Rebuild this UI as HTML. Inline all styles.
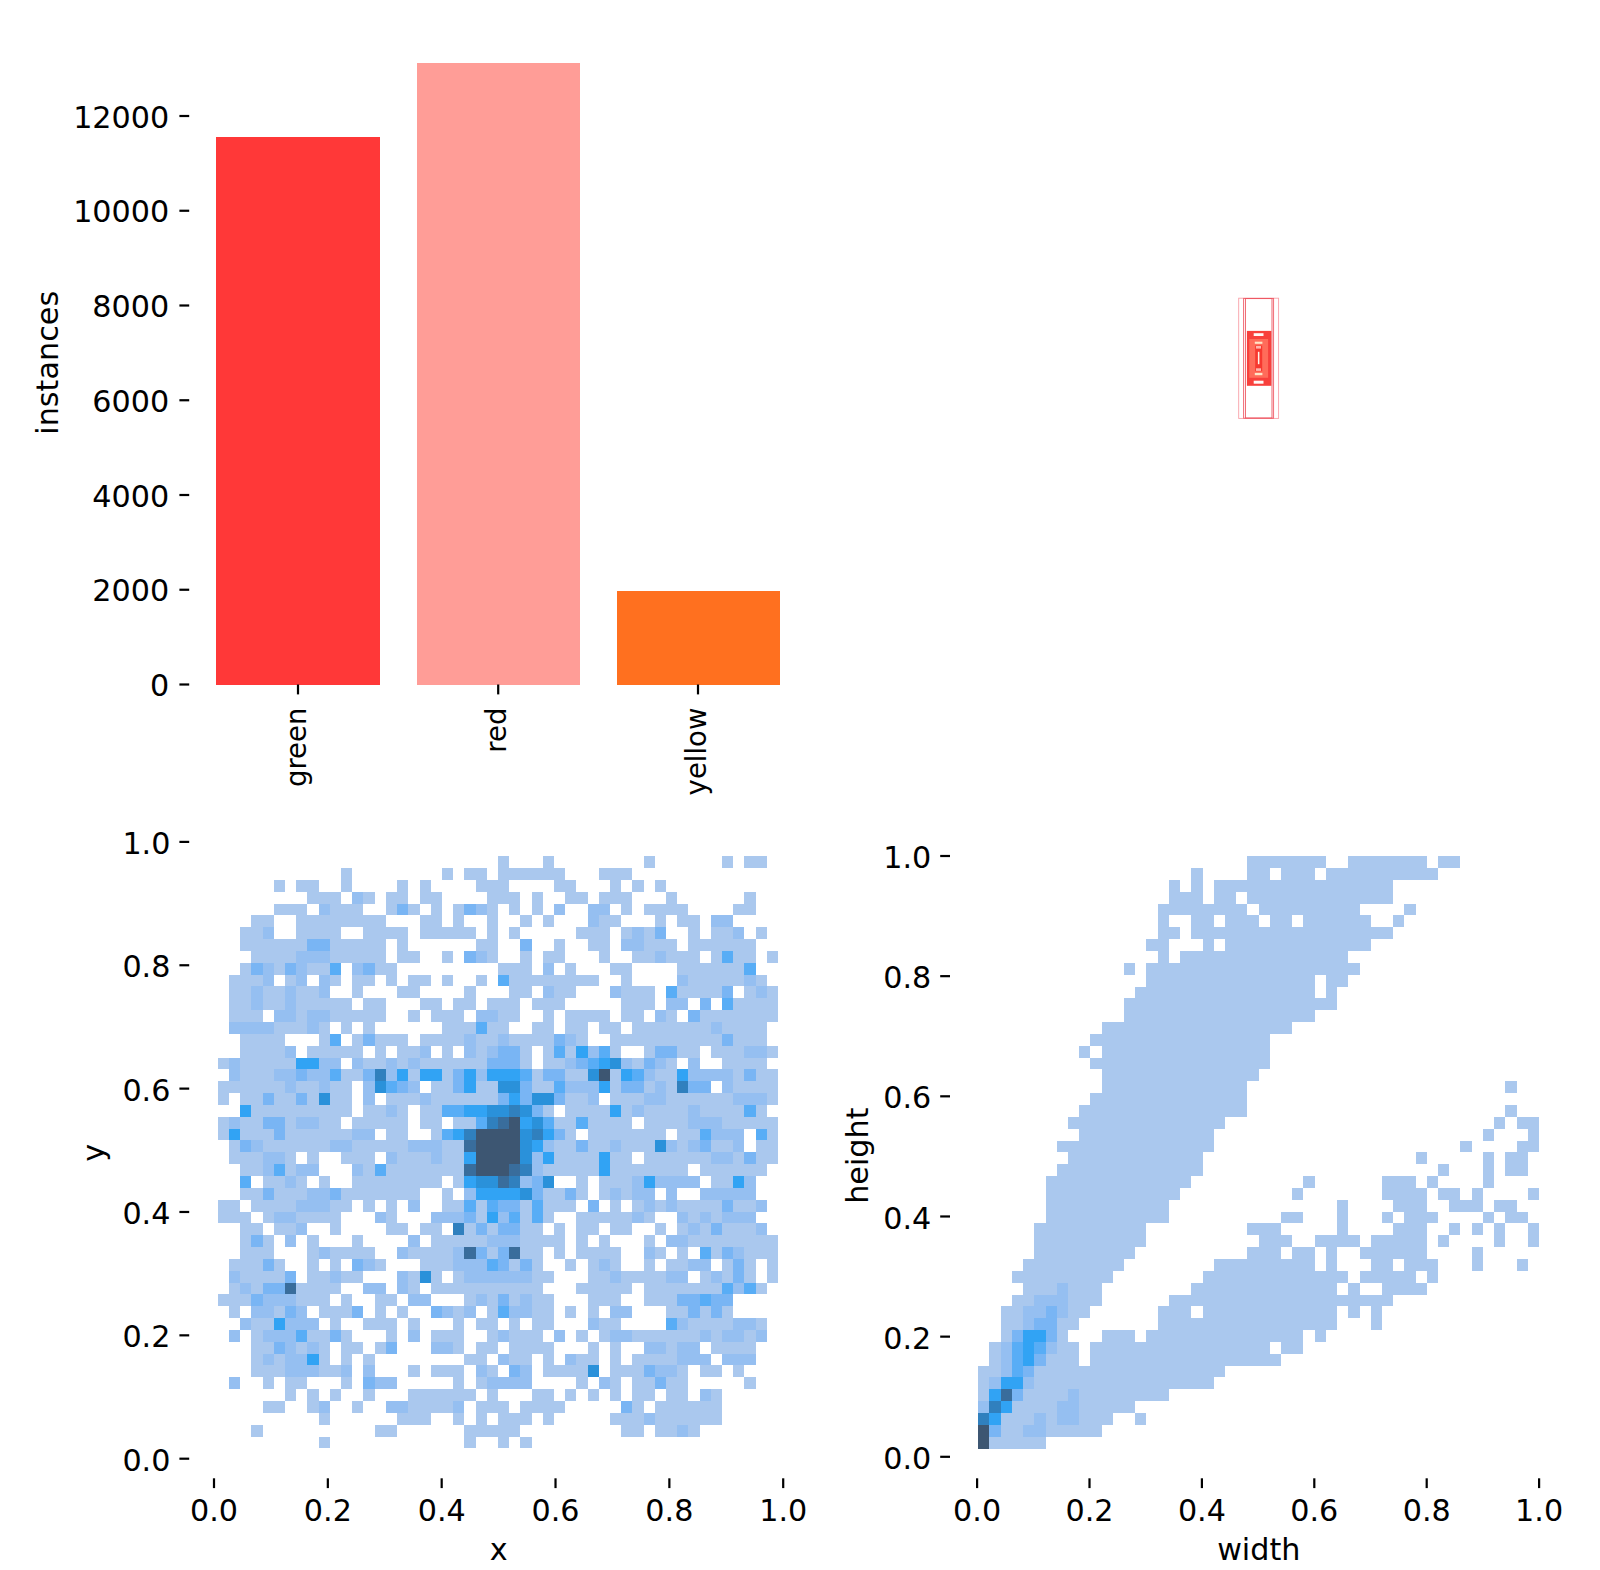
<!DOCTYPE html>
<html><head><meta charset="utf-8"><title>labels</title>
<style>html,body{margin:0;padding:0;background:#fff}svg{display:block}text{font-family:"DejaVu Sans","Liberation Sans",sans-serif;font-size:30.20px;fill:#000}</style></head><body>
<svg width="1600" height="1570" viewBox="0 0 1600 1570">
<rect width="1600" height="1570" fill="#fff"/>
<g shape-rendering="crispEdges">
<rect x="216.25" y="136.80" width="163.75" height="547.70" fill="#FF3838"/>
<rect x="417.00" y="63.00" width="163.00" height="621.50" fill="#FF9D97"/>
<rect x="617.00" y="591.25" width="163.00" height="93.25" fill="#FF701F"/>
</g>
<rect x="179.40" y="683.40" width="9.80" height="2.20" fill="#000"/>
<text transform="translate(169.2,696.20) scale(1,0.975)" text-anchor="end">0</text>
<rect x="179.40" y="588.65" width="9.80" height="2.20" fill="#000"/>
<text transform="translate(169.2,601.45) scale(1,0.975)" text-anchor="end">2000</text>
<rect x="179.40" y="493.90" width="9.80" height="2.20" fill="#000"/>
<text transform="translate(169.2,506.70) scale(1,0.975)" text-anchor="end">4000</text>
<rect x="179.40" y="399.15" width="9.80" height="2.20" fill="#000"/>
<text transform="translate(169.2,411.95) scale(1,0.975)" text-anchor="end">6000</text>
<rect x="179.40" y="304.40" width="9.80" height="2.20" fill="#000"/>
<text transform="translate(169.2,317.20) scale(1,0.975)" text-anchor="end">8000</text>
<rect x="179.40" y="209.65" width="9.80" height="2.20" fill="#000"/>
<text transform="translate(169.2,222.45) scale(1,0.975)" text-anchor="end">10000</text>
<rect x="179.40" y="114.90" width="9.80" height="2.20" fill="#000"/>
<text transform="translate(169.2,127.70) scale(1,0.975)" text-anchor="end">12000</text>
<rect x="296.90" y="684.50" width="2.20" height="9.90" fill="#000"/>
<text transform="translate(306.10,707.60) rotate(-90)" text-anchor="end" style="font-size:27.5px">green</text>
<rect x="497.10" y="684.50" width="2.20" height="9.90" fill="#000"/>
<text transform="translate(506.30,707.60) rotate(-90)" text-anchor="end" style="font-size:27.5px">red</text>
<rect x="696.90" y="684.50" width="2.20" height="9.90" fill="#000"/>
<text transform="translate(706.10,707.60) rotate(-90)" text-anchor="end" style="font-size:27.5px">yellow</text>
<text transform="translate(57.7,362.8) rotate(-90) scale(0.985,1)" text-anchor="middle" style="font-size:30.7px">instances</text>
<g>
<rect x="1238.70" y="298.20" width="39.90" height="120.20" fill="none" stroke="#f9a0a8" stroke-width="0.90" opacity="1.00"/>
<rect x="1243.60" y="298.40" width="30.00" height="119.80" fill="none" stroke="#f0606c" stroke-width="0.90" opacity="1.00"/>
<rect x="1245.40" y="298.60" width="26.60" height="119.40" fill="none" stroke="#ee5560" stroke-width="0.90" opacity="1.00"/>
<rect x="1246.9" y="330.9" width="24.5" height="54.9" fill="#f8403c"/>
<rect x="1249.3" y="339.0" width="18.8" height="38.8" fill="#ff6c5a"/>
<rect x="1255.2" y="345.5" width="7.0" height="25.8" fill="#f7382f"/>
<rect x="1253.70" y="333.20" width="9.80" height="2.80" fill="#fff8f6"/>
<rect x="1253.70" y="380.70" width="9.80" height="3.00" fill="#fff8f6"/>
<rect x="1254.80" y="341.70" width="7.60" height="2.10" fill="#ffe6c8"/>
<rect x="1254.80" y="372.90" width="7.60" height="2.30" fill="#ffe6c8"/>
<rect x="1256.00" y="346.00" width="5.00" height="2.60" fill="#ffb4ac"/>
<rect x="1256.00" y="368.30" width="5.00" height="2.60" fill="#ffb4ac"/>
<rect x="1257.90" y="351.80" width="1.50" height="12.40" fill="#fff4ea"/>
</g>
<g shape-rendering="crispEdges">
<rect x="497.92" y="856.15" width="11.21" height="11.85" fill="#aac8ee"/>
<rect x="542.74" y="856.15" width="11.20" height="11.85" fill="#aac8ee"/>
<rect x="643.56" y="856.15" width="11.21" height="11.85" fill="#aac8ee"/>
<rect x="721.99" y="856.15" width="11.20" height="11.85" fill="#aac8ee"/>
<rect x="744.39" y="856.15" width="22.41" height="11.85" fill="#aac8ee"/>
<rect x="341.08" y="868.00" width="11.21" height="11.84" fill="#aac8ee"/>
<rect x="441.91" y="868.00" width="11.20" height="11.84" fill="#aac8ee"/>
<rect x="464.32" y="868.00" width="22.40" height="11.84" fill="#aac8ee"/>
<rect x="497.92" y="868.00" width="67.22" height="11.84" fill="#aac8ee"/>
<rect x="598.75" y="868.00" width="33.61" height="11.84" fill="#aac8ee"/>
<rect x="273.87" y="879.84" width="11.20" height="11.84" fill="#aac8ee"/>
<rect x="296.27" y="879.84" width="22.41" height="11.84" fill="#aac8ee"/>
<rect x="341.08" y="879.84" width="11.21" height="11.84" fill="#aac8ee"/>
<rect x="397.10" y="879.84" width="11.20" height="11.84" fill="#aac8ee"/>
<rect x="419.50" y="879.84" width="11.21" height="11.84" fill="#aac8ee"/>
<rect x="475.52" y="879.84" width="33.61" height="11.84" fill="#aac8ee"/>
<rect x="553.94" y="879.84" width="22.41" height="11.84" fill="#aac8ee"/>
<rect x="609.95" y="879.84" width="11.21" height="11.84" fill="#aac8ee"/>
<rect x="632.36" y="879.84" width="11.20" height="11.84" fill="#aac8ee"/>
<rect x="654.77" y="879.84" width="11.20" height="11.84" fill="#aac8ee"/>
<rect x="307.47" y="891.68" width="33.61" height="11.85" fill="#aac8ee"/>
<rect x="352.29" y="891.68" width="11.20" height="11.85" fill="#95bff1"/>
<rect x="363.49" y="891.68" width="11.20" height="11.85" fill="#aac8ee"/>
<rect x="385.89" y="891.68" width="22.41" height="11.85" fill="#aac8ee"/>
<rect x="419.50" y="891.68" width="22.41" height="11.85" fill="#aac8ee"/>
<rect x="486.72" y="891.68" width="33.61" height="11.85" fill="#aac8ee"/>
<rect x="531.53" y="891.68" width="11.21" height="11.85" fill="#aac8ee"/>
<rect x="565.14" y="891.68" width="22.41" height="11.85" fill="#aac8ee"/>
<rect x="598.75" y="891.68" width="33.61" height="11.85" fill="#aac8ee"/>
<rect x="665.97" y="891.68" width="11.20" height="11.85" fill="#aac8ee"/>
<rect x="744.39" y="891.68" width="11.20" height="11.85" fill="#aac8ee"/>
<rect x="273.87" y="903.53" width="33.60" height="11.85" fill="#aac8ee"/>
<rect x="318.68" y="903.53" width="11.20" height="11.85" fill="#95bff1"/>
<rect x="329.88" y="903.53" width="33.61" height="11.85" fill="#aac8ee"/>
<rect x="385.89" y="903.53" width="11.21" height="11.85" fill="#aac8ee"/>
<rect x="397.10" y="903.53" width="11.20" height="11.85" fill="#79b5f4"/>
<rect x="408.30" y="903.53" width="11.20" height="11.85" fill="#aac8ee"/>
<rect x="430.71" y="903.53" width="11.20" height="11.85" fill="#aac8ee"/>
<rect x="453.11" y="903.53" width="11.21" height="11.85" fill="#aac8ee"/>
<rect x="464.32" y="903.53" width="11.20" height="11.85" fill="#79b5f4"/>
<rect x="475.52" y="903.53" width="11.20" height="11.85" fill="#95bff1"/>
<rect x="486.72" y="903.53" width="11.20" height="11.85" fill="#aac8ee"/>
<rect x="509.13" y="903.53" width="11.20" height="11.85" fill="#aac8ee"/>
<rect x="531.53" y="903.53" width="11.21" height="11.85" fill="#aac8ee"/>
<rect x="553.94" y="903.53" width="11.20" height="11.85" fill="#95bff1"/>
<rect x="587.55" y="903.53" width="22.40" height="11.85" fill="#95bff1"/>
<rect x="621.16" y="903.53" width="11.20" height="11.85" fill="#aac8ee"/>
<rect x="643.56" y="903.53" width="44.82" height="11.85" fill="#aac8ee"/>
<rect x="733.19" y="903.53" width="22.40" height="11.85" fill="#aac8ee"/>
<rect x="251.46" y="915.38" width="22.41" height="11.84" fill="#aac8ee"/>
<rect x="296.27" y="915.38" width="89.62" height="11.84" fill="#aac8ee"/>
<rect x="419.50" y="915.38" width="22.41" height="11.84" fill="#aac8ee"/>
<rect x="453.11" y="915.38" width="11.21" height="11.84" fill="#aac8ee"/>
<rect x="486.72" y="915.38" width="11.20" height="11.84" fill="#aac8ee"/>
<rect x="520.33" y="915.38" width="11.20" height="11.84" fill="#aac8ee"/>
<rect x="542.74" y="915.38" width="11.20" height="11.84" fill="#aac8ee"/>
<rect x="587.55" y="915.38" width="11.20" height="11.84" fill="#95bff1"/>
<rect x="598.75" y="915.38" width="22.41" height="11.84" fill="#aac8ee"/>
<rect x="654.77" y="915.38" width="11.20" height="11.84" fill="#aac8ee"/>
<rect x="677.17" y="915.38" width="22.41" height="11.84" fill="#aac8ee"/>
<rect x="710.78" y="915.38" width="22.41" height="11.84" fill="#95bff1"/>
<rect x="240.26" y="927.22" width="22.40" height="11.85" fill="#aac8ee"/>
<rect x="262.66" y="927.22" width="11.21" height="11.85" fill="#95bff1"/>
<rect x="296.27" y="927.22" width="44.81" height="11.85" fill="#aac8ee"/>
<rect x="363.49" y="927.22" width="44.81" height="11.85" fill="#aac8ee"/>
<rect x="419.50" y="927.22" width="56.02" height="11.85" fill="#aac8ee"/>
<rect x="486.72" y="927.22" width="11.20" height="11.85" fill="#aac8ee"/>
<rect x="509.13" y="927.22" width="11.20" height="11.85" fill="#aac8ee"/>
<rect x="576.35" y="927.22" width="33.60" height="11.85" fill="#aac8ee"/>
<rect x="621.16" y="927.22" width="11.20" height="11.85" fill="#aac8ee"/>
<rect x="632.36" y="927.22" width="11.20" height="11.85" fill="#95bff1"/>
<rect x="643.56" y="927.22" width="11.21" height="11.85" fill="#aac8ee"/>
<rect x="654.77" y="927.22" width="11.20" height="11.85" fill="#79b5f4"/>
<rect x="688.38" y="927.22" width="11.20" height="11.85" fill="#aac8ee"/>
<rect x="710.78" y="927.22" width="22.41" height="11.85" fill="#aac8ee"/>
<rect x="733.19" y="927.22" width="11.20" height="11.85" fill="#95bff1"/>
<rect x="755.59" y="927.22" width="11.21" height="11.85" fill="#aac8ee"/>
<rect x="240.26" y="939.07" width="67.21" height="11.84" fill="#aac8ee"/>
<rect x="307.47" y="939.07" width="22.41" height="11.84" fill="#79b5f4"/>
<rect x="329.88" y="939.07" width="56.01" height="11.84" fill="#aac8ee"/>
<rect x="397.10" y="939.07" width="11.20" height="11.84" fill="#aac8ee"/>
<rect x="475.52" y="939.07" width="22.40" height="11.84" fill="#aac8ee"/>
<rect x="520.33" y="939.07" width="11.20" height="11.84" fill="#79b5f4"/>
<rect x="553.94" y="939.07" width="11.20" height="11.84" fill="#aac8ee"/>
<rect x="587.55" y="939.07" width="22.40" height="11.84" fill="#aac8ee"/>
<rect x="621.16" y="939.07" width="22.40" height="11.84" fill="#95bff1"/>
<rect x="643.56" y="939.07" width="33.61" height="11.84" fill="#aac8ee"/>
<rect x="688.38" y="939.07" width="67.21" height="11.84" fill="#aac8ee"/>
<rect x="251.46" y="950.91" width="44.81" height="11.84" fill="#aac8ee"/>
<rect x="296.27" y="950.91" width="33.61" height="11.84" fill="#95bff1"/>
<rect x="329.88" y="950.91" width="56.01" height="11.84" fill="#aac8ee"/>
<rect x="397.10" y="950.91" width="22.40" height="11.84" fill="#aac8ee"/>
<rect x="441.91" y="950.91" width="11.20" height="11.84" fill="#aac8ee"/>
<rect x="464.32" y="950.91" width="11.20" height="11.84" fill="#79b5f4"/>
<rect x="475.52" y="950.91" width="11.20" height="11.84" fill="#95bff1"/>
<rect x="486.72" y="950.91" width="11.20" height="11.84" fill="#aac8ee"/>
<rect x="520.33" y="950.91" width="11.20" height="11.84" fill="#aac8ee"/>
<rect x="542.74" y="950.91" width="22.40" height="11.84" fill="#aac8ee"/>
<rect x="598.75" y="950.91" width="11.20" height="11.84" fill="#aac8ee"/>
<rect x="632.36" y="950.91" width="22.41" height="11.84" fill="#aac8ee"/>
<rect x="654.77" y="950.91" width="11.20" height="11.84" fill="#95bff1"/>
<rect x="665.97" y="950.91" width="33.61" height="11.84" fill="#aac8ee"/>
<rect x="710.78" y="950.91" width="11.21" height="11.84" fill="#aac8ee"/>
<rect x="721.99" y="950.91" width="11.20" height="11.84" fill="#58adf6"/>
<rect x="733.19" y="950.91" width="22.40" height="11.84" fill="#aac8ee"/>
<rect x="766.80" y="950.91" width="11.20" height="11.84" fill="#aac8ee"/>
<rect x="240.26" y="962.75" width="11.20" height="11.85" fill="#aac8ee"/>
<rect x="251.46" y="962.75" width="11.20" height="11.85" fill="#79b5f4"/>
<rect x="262.66" y="962.75" width="11.21" height="11.85" fill="#95bff1"/>
<rect x="273.87" y="962.75" width="11.20" height="11.85" fill="#aac8ee"/>
<rect x="285.07" y="962.75" width="11.20" height="11.85" fill="#79b5f4"/>
<rect x="296.27" y="962.75" width="11.20" height="11.85" fill="#95bff1"/>
<rect x="307.47" y="962.75" width="22.41" height="11.85" fill="#aac8ee"/>
<rect x="329.88" y="962.75" width="11.20" height="11.85" fill="#58adf6"/>
<rect x="352.29" y="962.75" width="11.20" height="11.85" fill="#95bff1"/>
<rect x="363.49" y="962.75" width="11.20" height="11.85" fill="#79b5f4"/>
<rect x="374.69" y="962.75" width="22.41" height="11.85" fill="#aac8ee"/>
<rect x="497.92" y="962.75" width="33.61" height="11.85" fill="#aac8ee"/>
<rect x="542.74" y="962.75" width="11.20" height="11.85" fill="#95bff1"/>
<rect x="565.14" y="962.75" width="11.21" height="11.85" fill="#aac8ee"/>
<rect x="609.95" y="962.75" width="22.41" height="11.85" fill="#aac8ee"/>
<rect x="677.17" y="962.75" width="67.22" height="11.85" fill="#aac8ee"/>
<rect x="744.39" y="962.75" width="11.20" height="11.85" fill="#58adf6"/>
<rect x="229.05" y="974.60" width="33.61" height="11.84" fill="#aac8ee"/>
<rect x="262.66" y="974.60" width="11.21" height="11.84" fill="#95bff1"/>
<rect x="285.07" y="974.60" width="11.20" height="11.84" fill="#aac8ee"/>
<rect x="296.27" y="974.60" width="11.20" height="11.84" fill="#95bff1"/>
<rect x="318.68" y="974.60" width="11.20" height="11.84" fill="#95bff1"/>
<rect x="329.88" y="974.60" width="11.20" height="11.84" fill="#aac8ee"/>
<rect x="352.29" y="974.60" width="22.40" height="11.84" fill="#aac8ee"/>
<rect x="385.89" y="974.60" width="11.21" height="11.84" fill="#aac8ee"/>
<rect x="408.30" y="974.60" width="22.41" height="11.84" fill="#aac8ee"/>
<rect x="441.91" y="974.60" width="11.20" height="11.84" fill="#aac8ee"/>
<rect x="475.52" y="974.60" width="11.20" height="11.84" fill="#aac8ee"/>
<rect x="497.92" y="974.60" width="11.21" height="11.84" fill="#58adf6"/>
<rect x="509.13" y="974.60" width="89.62" height="11.84" fill="#aac8ee"/>
<rect x="621.16" y="974.60" width="11.20" height="11.84" fill="#aac8ee"/>
<rect x="677.17" y="974.60" width="11.21" height="11.84" fill="#95bff1"/>
<rect x="688.38" y="974.60" width="56.01" height="11.84" fill="#aac8ee"/>
<rect x="744.39" y="974.60" width="11.20" height="11.84" fill="#95bff1"/>
<rect x="755.59" y="974.60" width="11.21" height="11.84" fill="#aac8ee"/>
<rect x="229.05" y="986.44" width="22.41" height="11.85" fill="#aac8ee"/>
<rect x="251.46" y="986.44" width="11.20" height="11.85" fill="#95bff1"/>
<rect x="262.66" y="986.44" width="22.41" height="11.85" fill="#aac8ee"/>
<rect x="285.07" y="986.44" width="11.20" height="11.85" fill="#95bff1"/>
<rect x="296.27" y="986.44" width="22.41" height="11.85" fill="#aac8ee"/>
<rect x="318.68" y="986.44" width="11.20" height="11.85" fill="#95bff1"/>
<rect x="352.29" y="986.44" width="11.20" height="11.85" fill="#aac8ee"/>
<rect x="397.10" y="986.44" width="22.40" height="11.85" fill="#aac8ee"/>
<rect x="464.32" y="986.44" width="11.20" height="11.85" fill="#aac8ee"/>
<rect x="509.13" y="986.44" width="22.40" height="11.85" fill="#aac8ee"/>
<rect x="542.74" y="986.44" width="11.20" height="11.85" fill="#95bff1"/>
<rect x="553.94" y="986.44" width="22.41" height="11.85" fill="#aac8ee"/>
<rect x="609.95" y="986.44" width="11.21" height="11.85" fill="#95bff1"/>
<rect x="621.16" y="986.44" width="33.61" height="11.85" fill="#aac8ee"/>
<rect x="665.97" y="986.44" width="11.20" height="11.85" fill="#58adf6"/>
<rect x="677.17" y="986.44" width="44.82" height="11.85" fill="#aac8ee"/>
<rect x="721.99" y="986.44" width="11.20" height="11.85" fill="#79b5f4"/>
<rect x="744.39" y="986.44" width="11.20" height="11.85" fill="#aac8ee"/>
<rect x="755.59" y="986.44" width="11.21" height="11.85" fill="#95bff1"/>
<rect x="766.80" y="986.44" width="11.20" height="11.85" fill="#aac8ee"/>
<rect x="229.05" y="998.29" width="22.41" height="11.84" fill="#aac8ee"/>
<rect x="251.46" y="998.29" width="11.20" height="11.84" fill="#95bff1"/>
<rect x="262.66" y="998.29" width="22.41" height="11.84" fill="#aac8ee"/>
<rect x="285.07" y="998.29" width="11.20" height="11.84" fill="#95bff1"/>
<rect x="296.27" y="998.29" width="56.02" height="11.84" fill="#aac8ee"/>
<rect x="363.49" y="998.29" width="22.40" height="11.84" fill="#aac8ee"/>
<rect x="419.50" y="998.29" width="22.41" height="11.84" fill="#aac8ee"/>
<rect x="453.11" y="998.29" width="22.41" height="11.84" fill="#aac8ee"/>
<rect x="486.72" y="998.29" width="33.61" height="11.84" fill="#aac8ee"/>
<rect x="531.53" y="998.29" width="33.61" height="11.84" fill="#aac8ee"/>
<rect x="621.16" y="998.29" width="33.61" height="11.84" fill="#aac8ee"/>
<rect x="665.97" y="998.29" width="22.41" height="11.84" fill="#95bff1"/>
<rect x="699.58" y="998.29" width="11.20" height="11.84" fill="#79b5f4"/>
<rect x="721.99" y="998.29" width="11.20" height="11.84" fill="#58adf6"/>
<rect x="733.19" y="998.29" width="44.81" height="11.84" fill="#aac8ee"/>
<rect x="229.05" y="1010.13" width="33.61" height="11.85" fill="#aac8ee"/>
<rect x="273.87" y="1010.13" width="22.40" height="11.85" fill="#95bff1"/>
<rect x="296.27" y="1010.13" width="11.20" height="11.85" fill="#aac8ee"/>
<rect x="307.47" y="1010.13" width="22.41" height="11.85" fill="#95bff1"/>
<rect x="329.88" y="1010.13" width="56.01" height="11.85" fill="#aac8ee"/>
<rect x="408.30" y="1010.13" width="11.20" height="11.85" fill="#aac8ee"/>
<rect x="430.71" y="1010.13" width="33.61" height="11.85" fill="#aac8ee"/>
<rect x="475.52" y="1010.13" width="22.40" height="11.85" fill="#95bff1"/>
<rect x="497.92" y="1010.13" width="22.41" height="11.85" fill="#aac8ee"/>
<rect x="542.74" y="1010.13" width="11.20" height="11.85" fill="#aac8ee"/>
<rect x="565.14" y="1010.13" width="44.81" height="11.85" fill="#aac8ee"/>
<rect x="621.16" y="1010.13" width="22.40" height="11.85" fill="#aac8ee"/>
<rect x="654.77" y="1010.13" width="11.20" height="11.85" fill="#95bff1"/>
<rect x="665.97" y="1010.13" width="11.20" height="11.85" fill="#aac8ee"/>
<rect x="688.38" y="1010.13" width="11.20" height="11.85" fill="#79b5f4"/>
<rect x="699.58" y="1010.13" width="78.42" height="11.85" fill="#aac8ee"/>
<rect x="229.05" y="1021.98" width="44.82" height="11.85" fill="#95bff1"/>
<rect x="273.87" y="1021.98" width="33.60" height="11.85" fill="#aac8ee"/>
<rect x="307.47" y="1021.98" width="11.21" height="11.85" fill="#95bff1"/>
<rect x="318.68" y="1021.98" width="11.20" height="11.85" fill="#aac8ee"/>
<rect x="341.08" y="1021.98" width="11.21" height="11.85" fill="#aac8ee"/>
<rect x="363.49" y="1021.98" width="11.20" height="11.85" fill="#aac8ee"/>
<rect x="441.91" y="1021.98" width="33.61" height="11.85" fill="#aac8ee"/>
<rect x="475.52" y="1021.98" width="11.20" height="11.85" fill="#58adf6"/>
<rect x="486.72" y="1021.98" width="22.41" height="11.85" fill="#aac8ee"/>
<rect x="531.53" y="1021.98" width="22.41" height="11.85" fill="#aac8ee"/>
<rect x="565.14" y="1021.98" width="22.41" height="11.85" fill="#aac8ee"/>
<rect x="598.75" y="1021.98" width="22.41" height="11.85" fill="#aac8ee"/>
<rect x="632.36" y="1021.98" width="78.42" height="11.85" fill="#aac8ee"/>
<rect x="710.78" y="1021.98" width="11.21" height="11.85" fill="#95bff1"/>
<rect x="721.99" y="1021.98" width="44.81" height="11.85" fill="#aac8ee"/>
<rect x="240.26" y="1033.83" width="44.81" height="11.84" fill="#aac8ee"/>
<rect x="318.68" y="1033.83" width="11.20" height="11.84" fill="#aac8ee"/>
<rect x="329.88" y="1033.83" width="11.20" height="11.84" fill="#58adf6"/>
<rect x="352.29" y="1033.83" width="11.20" height="11.84" fill="#aac8ee"/>
<rect x="363.49" y="1033.83" width="11.20" height="11.84" fill="#79b5f4"/>
<rect x="374.69" y="1033.83" width="33.61" height="11.84" fill="#aac8ee"/>
<rect x="419.50" y="1033.83" width="44.82" height="11.84" fill="#aac8ee"/>
<rect x="464.32" y="1033.83" width="11.20" height="11.84" fill="#95bff1"/>
<rect x="475.52" y="1033.83" width="22.40" height="11.84" fill="#aac8ee"/>
<rect x="497.92" y="1033.83" width="11.21" height="11.84" fill="#95bff1"/>
<rect x="509.13" y="1033.83" width="44.81" height="11.84" fill="#aac8ee"/>
<rect x="553.94" y="1033.83" width="11.20" height="11.84" fill="#79b5f4"/>
<rect x="565.14" y="1033.83" width="11.21" height="11.84" fill="#95bff1"/>
<rect x="576.35" y="1033.83" width="11.20" height="11.84" fill="#aac8ee"/>
<rect x="609.95" y="1033.83" width="112.04" height="11.84" fill="#aac8ee"/>
<rect x="721.99" y="1033.83" width="11.20" height="11.84" fill="#79b5f4"/>
<rect x="733.19" y="1033.83" width="33.61" height="11.84" fill="#aac8ee"/>
<rect x="240.26" y="1045.67" width="44.81" height="11.85" fill="#aac8ee"/>
<rect x="285.07" y="1045.67" width="11.20" height="11.85" fill="#95bff1"/>
<rect x="307.47" y="1045.67" width="56.02" height="11.85" fill="#aac8ee"/>
<rect x="374.69" y="1045.67" width="11.20" height="11.85" fill="#aac8ee"/>
<rect x="397.10" y="1045.67" width="22.40" height="11.85" fill="#aac8ee"/>
<rect x="419.50" y="1045.67" width="11.21" height="11.85" fill="#95bff1"/>
<rect x="441.91" y="1045.67" width="11.20" height="11.85" fill="#aac8ee"/>
<rect x="464.32" y="1045.67" width="11.20" height="11.85" fill="#95bff1"/>
<rect x="475.52" y="1045.67" width="11.20" height="11.85" fill="#aac8ee"/>
<rect x="486.72" y="1045.67" width="11.20" height="11.85" fill="#95bff1"/>
<rect x="497.92" y="1045.67" width="22.41" height="11.85" fill="#79b5f4"/>
<rect x="520.33" y="1045.67" width="11.20" height="11.85" fill="#aac8ee"/>
<rect x="542.74" y="1045.67" width="11.20" height="11.85" fill="#aac8ee"/>
<rect x="553.94" y="1045.67" width="11.20" height="11.85" fill="#58adf6"/>
<rect x="565.14" y="1045.67" width="11.21" height="11.85" fill="#aac8ee"/>
<rect x="576.35" y="1045.67" width="11.20" height="11.85" fill="#31a3f4"/>
<rect x="587.55" y="1045.67" width="11.20" height="11.85" fill="#95bff1"/>
<rect x="598.75" y="1045.67" width="11.20" height="11.85" fill="#58adf6"/>
<rect x="609.95" y="1045.67" width="11.21" height="11.85" fill="#aac8ee"/>
<rect x="643.56" y="1045.67" width="11.21" height="11.85" fill="#aac8ee"/>
<rect x="654.77" y="1045.67" width="22.40" height="11.85" fill="#79b5f4"/>
<rect x="677.17" y="1045.67" width="22.41" height="11.85" fill="#aac8ee"/>
<rect x="710.78" y="1045.67" width="33.61" height="11.85" fill="#aac8ee"/>
<rect x="744.39" y="1045.67" width="22.41" height="11.85" fill="#95bff1"/>
<rect x="766.80" y="1045.67" width="11.20" height="11.85" fill="#aac8ee"/>
<rect x="217.85" y="1057.52" width="11.20" height="11.84" fill="#aac8ee"/>
<rect x="229.05" y="1057.52" width="11.21" height="11.84" fill="#95bff1"/>
<rect x="240.26" y="1057.52" width="56.01" height="11.84" fill="#aac8ee"/>
<rect x="296.27" y="1057.52" width="22.41" height="11.84" fill="#31a3f4"/>
<rect x="318.68" y="1057.52" width="22.40" height="11.84" fill="#95bff1"/>
<rect x="352.29" y="1057.52" width="11.20" height="11.84" fill="#95bff1"/>
<rect x="363.49" y="1057.52" width="22.40" height="11.84" fill="#aac8ee"/>
<rect x="385.89" y="1057.52" width="11.21" height="11.84" fill="#95bff1"/>
<rect x="397.10" y="1057.52" width="11.20" height="11.84" fill="#aac8ee"/>
<rect x="408.30" y="1057.52" width="11.20" height="11.84" fill="#95bff1"/>
<rect x="419.50" y="1057.52" width="67.22" height="11.84" fill="#aac8ee"/>
<rect x="486.72" y="1057.52" width="33.61" height="11.84" fill="#79b5f4"/>
<rect x="520.33" y="1057.52" width="11.20" height="11.84" fill="#aac8ee"/>
<rect x="542.74" y="1057.52" width="22.40" height="11.84" fill="#aac8ee"/>
<rect x="565.14" y="1057.52" width="11.21" height="11.84" fill="#95bff1"/>
<rect x="576.35" y="1057.52" width="11.20" height="11.84" fill="#79b5f4"/>
<rect x="587.55" y="1057.52" width="11.20" height="11.84" fill="#58adf6"/>
<rect x="598.75" y="1057.52" width="11.20" height="11.84" fill="#31a3f4"/>
<rect x="609.95" y="1057.52" width="11.21" height="11.84" fill="#2a91da"/>
<rect x="621.16" y="1057.52" width="11.20" height="11.84" fill="#95bff1"/>
<rect x="632.36" y="1057.52" width="11.20" height="11.84" fill="#aac8ee"/>
<rect x="643.56" y="1057.52" width="11.21" height="11.84" fill="#79b5f4"/>
<rect x="654.77" y="1057.52" width="11.20" height="11.84" fill="#95bff1"/>
<rect x="665.97" y="1057.52" width="11.20" height="11.84" fill="#aac8ee"/>
<rect x="688.38" y="1057.52" width="11.20" height="11.84" fill="#95bff1"/>
<rect x="721.99" y="1057.52" width="44.81" height="11.84" fill="#aac8ee"/>
<rect x="229.05" y="1069.36" width="11.21" height="11.84" fill="#95bff1"/>
<rect x="240.26" y="1069.36" width="33.61" height="11.84" fill="#aac8ee"/>
<rect x="273.87" y="1069.36" width="22.40" height="11.84" fill="#95bff1"/>
<rect x="296.27" y="1069.36" width="11.20" height="11.84" fill="#79b5f4"/>
<rect x="307.47" y="1069.36" width="22.41" height="11.84" fill="#95bff1"/>
<rect x="329.88" y="1069.36" width="11.20" height="11.84" fill="#58adf6"/>
<rect x="341.08" y="1069.36" width="22.41" height="11.84" fill="#aac8ee"/>
<rect x="363.49" y="1069.36" width="11.20" height="11.84" fill="#79b5f4"/>
<rect x="374.69" y="1069.36" width="11.20" height="11.84" fill="#3080be"/>
<rect x="385.89" y="1069.36" width="11.21" height="11.84" fill="#95bff1"/>
<rect x="397.10" y="1069.36" width="11.20" height="11.84" fill="#31a3f4"/>
<rect x="408.30" y="1069.36" width="11.20" height="11.84" fill="#aac8ee"/>
<rect x="419.50" y="1069.36" width="22.41" height="11.84" fill="#31a3f4"/>
<rect x="441.91" y="1069.36" width="11.20" height="11.84" fill="#aac8ee"/>
<rect x="453.11" y="1069.36" width="11.21" height="11.84" fill="#79b5f4"/>
<rect x="464.32" y="1069.36" width="11.20" height="11.84" fill="#31a3f4"/>
<rect x="475.52" y="1069.36" width="11.20" height="11.84" fill="#95bff1"/>
<rect x="486.72" y="1069.36" width="33.61" height="11.84" fill="#31a3f4"/>
<rect x="520.33" y="1069.36" width="11.20" height="11.84" fill="#58adf6"/>
<rect x="531.53" y="1069.36" width="11.21" height="11.84" fill="#aac8ee"/>
<rect x="542.74" y="1069.36" width="22.40" height="11.84" fill="#79b5f4"/>
<rect x="565.14" y="1069.36" width="22.41" height="11.84" fill="#aac8ee"/>
<rect x="587.55" y="1069.36" width="11.20" height="11.84" fill="#2a91da"/>
<rect x="598.75" y="1069.36" width="11.20" height="11.84" fill="#3d5672"/>
<rect x="609.95" y="1069.36" width="11.21" height="11.84" fill="#aac8ee"/>
<rect x="621.16" y="1069.36" width="11.20" height="11.84" fill="#31a3f4"/>
<rect x="632.36" y="1069.36" width="11.20" height="11.84" fill="#58adf6"/>
<rect x="643.56" y="1069.36" width="11.21" height="11.84" fill="#95bff1"/>
<rect x="654.77" y="1069.36" width="22.40" height="11.84" fill="#aac8ee"/>
<rect x="677.17" y="1069.36" width="11.21" height="11.84" fill="#31a3f4"/>
<rect x="688.38" y="1069.36" width="44.81" height="11.84" fill="#95bff1"/>
<rect x="733.19" y="1069.36" width="11.20" height="11.84" fill="#aac8ee"/>
<rect x="744.39" y="1069.36" width="11.20" height="11.84" fill="#79b5f4"/>
<rect x="755.59" y="1069.36" width="22.41" height="11.84" fill="#aac8ee"/>
<rect x="217.85" y="1081.20" width="67.22" height="11.85" fill="#aac8ee"/>
<rect x="285.07" y="1081.20" width="11.20" height="11.85" fill="#95bff1"/>
<rect x="296.27" y="1081.20" width="22.41" height="11.85" fill="#aac8ee"/>
<rect x="318.68" y="1081.20" width="11.20" height="11.85" fill="#95bff1"/>
<rect x="329.88" y="1081.20" width="22.41" height="11.85" fill="#aac8ee"/>
<rect x="363.49" y="1081.20" width="11.20" height="11.85" fill="#95bff1"/>
<rect x="374.69" y="1081.20" width="11.20" height="11.85" fill="#2a91da"/>
<rect x="385.89" y="1081.20" width="11.21" height="11.85" fill="#58adf6"/>
<rect x="397.10" y="1081.20" width="11.20" height="11.85" fill="#79b5f4"/>
<rect x="408.30" y="1081.20" width="11.20" height="11.85" fill="#95bff1"/>
<rect x="430.71" y="1081.20" width="22.40" height="11.85" fill="#aac8ee"/>
<rect x="453.11" y="1081.20" width="11.21" height="11.85" fill="#79b5f4"/>
<rect x="464.32" y="1081.20" width="11.20" height="11.85" fill="#31a3f4"/>
<rect x="475.52" y="1081.20" width="22.40" height="11.85" fill="#aac8ee"/>
<rect x="497.92" y="1081.20" width="22.41" height="11.85" fill="#2a91da"/>
<rect x="520.33" y="1081.20" width="11.20" height="11.85" fill="#79b5f4"/>
<rect x="531.53" y="1081.20" width="22.41" height="11.85" fill="#aac8ee"/>
<rect x="553.94" y="1081.20" width="11.20" height="11.85" fill="#58adf6"/>
<rect x="565.14" y="1081.20" width="33.61" height="11.85" fill="#95bff1"/>
<rect x="598.75" y="1081.20" width="11.20" height="11.85" fill="#31a3f4"/>
<rect x="609.95" y="1081.20" width="11.21" height="11.85" fill="#aac8ee"/>
<rect x="621.16" y="1081.20" width="22.40" height="11.85" fill="#79b5f4"/>
<rect x="643.56" y="1081.20" width="11.21" height="11.85" fill="#aac8ee"/>
<rect x="654.77" y="1081.20" width="11.20" height="11.85" fill="#95bff1"/>
<rect x="665.97" y="1081.20" width="11.20" height="11.85" fill="#aac8ee"/>
<rect x="677.17" y="1081.20" width="11.21" height="11.85" fill="#3080be"/>
<rect x="688.38" y="1081.20" width="22.40" height="11.85" fill="#79b5f4"/>
<rect x="721.99" y="1081.20" width="11.20" height="11.85" fill="#95bff1"/>
<rect x="733.19" y="1081.20" width="44.81" height="11.85" fill="#aac8ee"/>
<rect x="217.85" y="1093.05" width="11.20" height="11.84" fill="#aac8ee"/>
<rect x="240.26" y="1093.05" width="22.40" height="11.84" fill="#aac8ee"/>
<rect x="262.66" y="1093.05" width="11.21" height="11.84" fill="#79b5f4"/>
<rect x="273.87" y="1093.05" width="22.40" height="11.84" fill="#aac8ee"/>
<rect x="296.27" y="1093.05" width="11.20" height="11.84" fill="#79b5f4"/>
<rect x="307.47" y="1093.05" width="11.21" height="11.84" fill="#aac8ee"/>
<rect x="318.68" y="1093.05" width="11.20" height="11.84" fill="#2a91da"/>
<rect x="329.88" y="1093.05" width="22.41" height="11.84" fill="#aac8ee"/>
<rect x="363.49" y="1093.05" width="11.20" height="11.84" fill="#95bff1"/>
<rect x="385.89" y="1093.05" width="33.61" height="11.84" fill="#aac8ee"/>
<rect x="419.50" y="1093.05" width="11.21" height="11.84" fill="#95bff1"/>
<rect x="430.71" y="1093.05" width="67.21" height="11.84" fill="#aac8ee"/>
<rect x="497.92" y="1093.05" width="11.21" height="11.84" fill="#79b5f4"/>
<rect x="509.13" y="1093.05" width="11.20" height="11.84" fill="#31a3f4"/>
<rect x="520.33" y="1093.05" width="11.20" height="11.84" fill="#79b5f4"/>
<rect x="531.53" y="1093.05" width="22.41" height="11.84" fill="#2a91da"/>
<rect x="553.94" y="1093.05" width="11.20" height="11.84" fill="#79b5f4"/>
<rect x="565.14" y="1093.05" width="22.41" height="11.84" fill="#aac8ee"/>
<rect x="587.55" y="1093.05" width="11.20" height="11.84" fill="#95bff1"/>
<rect x="609.95" y="1093.05" width="33.61" height="11.84" fill="#aac8ee"/>
<rect x="643.56" y="1093.05" width="22.41" height="11.84" fill="#95bff1"/>
<rect x="665.97" y="1093.05" width="67.22" height="11.84" fill="#aac8ee"/>
<rect x="733.19" y="1093.05" width="33.61" height="11.84" fill="#95bff1"/>
<rect x="766.80" y="1093.05" width="11.20" height="11.84" fill="#aac8ee"/>
<rect x="240.26" y="1104.89" width="11.20" height="11.85" fill="#31a3f4"/>
<rect x="251.46" y="1104.89" width="100.83" height="11.85" fill="#aac8ee"/>
<rect x="363.49" y="1104.89" width="22.40" height="11.85" fill="#aac8ee"/>
<rect x="385.89" y="1104.89" width="11.21" height="11.85" fill="#95bff1"/>
<rect x="397.10" y="1104.89" width="11.20" height="11.85" fill="#aac8ee"/>
<rect x="419.50" y="1104.89" width="22.41" height="11.85" fill="#aac8ee"/>
<rect x="441.91" y="1104.89" width="22.41" height="11.85" fill="#58adf6"/>
<rect x="464.32" y="1104.89" width="22.40" height="11.85" fill="#31a3f4"/>
<rect x="486.72" y="1104.89" width="22.41" height="11.85" fill="#2a91da"/>
<rect x="509.13" y="1104.89" width="11.20" height="11.85" fill="#3080be"/>
<rect x="520.33" y="1104.89" width="11.20" height="11.85" fill="#2a91da"/>
<rect x="531.53" y="1104.89" width="11.21" height="11.85" fill="#79b5f4"/>
<rect x="542.74" y="1104.89" width="11.20" height="11.85" fill="#aac8ee"/>
<rect x="565.14" y="1104.89" width="44.81" height="11.85" fill="#aac8ee"/>
<rect x="609.95" y="1104.89" width="11.21" height="11.85" fill="#31a3f4"/>
<rect x="621.16" y="1104.89" width="11.20" height="11.85" fill="#aac8ee"/>
<rect x="632.36" y="1104.89" width="11.20" height="11.85" fill="#95bff1"/>
<rect x="643.56" y="1104.89" width="44.82" height="11.85" fill="#aac8ee"/>
<rect x="688.38" y="1104.89" width="11.20" height="11.85" fill="#95bff1"/>
<rect x="699.58" y="1104.89" width="44.81" height="11.85" fill="#aac8ee"/>
<rect x="744.39" y="1104.89" width="11.20" height="11.85" fill="#58adf6"/>
<rect x="755.59" y="1104.89" width="11.21" height="11.85" fill="#aac8ee"/>
<rect x="217.85" y="1116.74" width="11.20" height="11.85" fill="#aac8ee"/>
<rect x="229.05" y="1116.74" width="11.21" height="11.85" fill="#95bff1"/>
<rect x="240.26" y="1116.74" width="22.40" height="11.85" fill="#aac8ee"/>
<rect x="262.66" y="1116.74" width="22.41" height="11.85" fill="#79b5f4"/>
<rect x="285.07" y="1116.74" width="11.20" height="11.85" fill="#aac8ee"/>
<rect x="296.27" y="1116.74" width="22.41" height="11.85" fill="#95bff1"/>
<rect x="318.68" y="1116.74" width="22.40" height="11.85" fill="#aac8ee"/>
<rect x="352.29" y="1116.74" width="56.01" height="11.85" fill="#aac8ee"/>
<rect x="419.50" y="1116.74" width="22.41" height="11.85" fill="#aac8ee"/>
<rect x="453.11" y="1116.74" width="22.41" height="11.85" fill="#aac8ee"/>
<rect x="475.52" y="1116.74" width="11.20" height="11.85" fill="#58adf6"/>
<rect x="486.72" y="1116.74" width="11.20" height="11.85" fill="#3080be"/>
<rect x="497.92" y="1116.74" width="11.21" height="11.85" fill="#396d9c"/>
<rect x="509.13" y="1116.74" width="11.20" height="11.85" fill="#3d5672"/>
<rect x="520.33" y="1116.74" width="11.20" height="11.85" fill="#31a3f4"/>
<rect x="531.53" y="1116.74" width="11.21" height="11.85" fill="#2a91da"/>
<rect x="542.74" y="1116.74" width="11.20" height="11.85" fill="#58adf6"/>
<rect x="553.94" y="1116.74" width="22.41" height="11.85" fill="#aac8ee"/>
<rect x="576.35" y="1116.74" width="11.20" height="11.85" fill="#58adf6"/>
<rect x="587.55" y="1116.74" width="44.81" height="11.85" fill="#aac8ee"/>
<rect x="643.56" y="1116.74" width="44.82" height="11.85" fill="#aac8ee"/>
<rect x="688.38" y="1116.74" width="33.61" height="11.85" fill="#95bff1"/>
<rect x="721.99" y="1116.74" width="56.01" height="11.85" fill="#aac8ee"/>
<rect x="217.85" y="1128.59" width="11.20" height="11.84" fill="#aac8ee"/>
<rect x="229.05" y="1128.59" width="11.21" height="11.84" fill="#31a3f4"/>
<rect x="240.26" y="1128.59" width="33.61" height="11.84" fill="#aac8ee"/>
<rect x="273.87" y="1128.59" width="11.20" height="11.84" fill="#79b5f4"/>
<rect x="285.07" y="1128.59" width="67.22" height="11.84" fill="#aac8ee"/>
<rect x="352.29" y="1128.59" width="22.40" height="11.84" fill="#95bff1"/>
<rect x="385.89" y="1128.59" width="22.41" height="11.84" fill="#aac8ee"/>
<rect x="430.71" y="1128.59" width="11.20" height="11.84" fill="#aac8ee"/>
<rect x="441.91" y="1128.59" width="11.20" height="11.84" fill="#58adf6"/>
<rect x="453.11" y="1128.59" width="11.21" height="11.84" fill="#31a3f4"/>
<rect x="464.32" y="1128.59" width="11.20" height="11.84" fill="#3080be"/>
<rect x="475.52" y="1128.59" width="44.81" height="11.84" fill="#3d5672"/>
<rect x="520.33" y="1128.59" width="11.20" height="11.84" fill="#2a91da"/>
<rect x="531.53" y="1128.59" width="11.21" height="11.84" fill="#3080be"/>
<rect x="542.74" y="1128.59" width="11.20" height="11.84" fill="#31a3f4"/>
<rect x="553.94" y="1128.59" width="11.20" height="11.84" fill="#79b5f4"/>
<rect x="565.14" y="1128.59" width="11.21" height="11.84" fill="#aac8ee"/>
<rect x="587.55" y="1128.59" width="78.42" height="11.84" fill="#aac8ee"/>
<rect x="677.17" y="1128.59" width="22.41" height="11.84" fill="#aac8ee"/>
<rect x="699.58" y="1128.59" width="11.20" height="11.84" fill="#58adf6"/>
<rect x="710.78" y="1128.59" width="33.61" height="11.84" fill="#95bff1"/>
<rect x="755.59" y="1128.59" width="11.21" height="11.84" fill="#58adf6"/>
<rect x="766.80" y="1128.59" width="11.20" height="11.84" fill="#aac8ee"/>
<rect x="229.05" y="1140.43" width="11.21" height="11.85" fill="#aac8ee"/>
<rect x="240.26" y="1140.43" width="11.20" height="11.85" fill="#79b5f4"/>
<rect x="251.46" y="1140.43" width="11.20" height="11.85" fill="#95bff1"/>
<rect x="262.66" y="1140.43" width="67.22" height="11.85" fill="#aac8ee"/>
<rect x="329.88" y="1140.43" width="22.41" height="11.85" fill="#95bff1"/>
<rect x="352.29" y="1140.43" width="56.01" height="11.85" fill="#aac8ee"/>
<rect x="408.30" y="1140.43" width="33.61" height="11.85" fill="#95bff1"/>
<rect x="441.91" y="1140.43" width="22.41" height="11.85" fill="#aac8ee"/>
<rect x="464.32" y="1140.43" width="11.20" height="11.85" fill="#396d9c"/>
<rect x="475.52" y="1140.43" width="44.81" height="11.85" fill="#3d5672"/>
<rect x="520.33" y="1140.43" width="11.20" height="11.85" fill="#2a91da"/>
<rect x="531.53" y="1140.43" width="11.21" height="11.85" fill="#31a3f4"/>
<rect x="542.74" y="1140.43" width="11.20" height="11.85" fill="#95bff1"/>
<rect x="553.94" y="1140.43" width="22.41" height="11.85" fill="#aac8ee"/>
<rect x="576.35" y="1140.43" width="11.20" height="11.85" fill="#79b5f4"/>
<rect x="587.55" y="1140.43" width="22.40" height="11.85" fill="#aac8ee"/>
<rect x="609.95" y="1140.43" width="11.21" height="11.85" fill="#95bff1"/>
<rect x="621.16" y="1140.43" width="33.61" height="11.85" fill="#aac8ee"/>
<rect x="654.77" y="1140.43" width="11.20" height="11.85" fill="#2a91da"/>
<rect x="665.97" y="1140.43" width="11.20" height="11.85" fill="#95bff1"/>
<rect x="677.17" y="1140.43" width="11.21" height="11.85" fill="#aac8ee"/>
<rect x="688.38" y="1140.43" width="11.20" height="11.85" fill="#95bff1"/>
<rect x="699.58" y="1140.43" width="11.20" height="11.85" fill="#79b5f4"/>
<rect x="710.78" y="1140.43" width="22.41" height="11.85" fill="#aac8ee"/>
<rect x="733.19" y="1140.43" width="11.20" height="11.85" fill="#95bff1"/>
<rect x="755.59" y="1140.43" width="22.41" height="11.85" fill="#aac8ee"/>
<rect x="229.05" y="1152.28" width="33.61" height="11.84" fill="#aac8ee"/>
<rect x="262.66" y="1152.28" width="22.41" height="11.84" fill="#95bff1"/>
<rect x="285.07" y="1152.28" width="11.20" height="11.84" fill="#aac8ee"/>
<rect x="307.47" y="1152.28" width="11.21" height="11.84" fill="#aac8ee"/>
<rect x="341.08" y="1152.28" width="33.61" height="11.84" fill="#aac8ee"/>
<rect x="385.89" y="1152.28" width="11.21" height="11.84" fill="#95bff1"/>
<rect x="397.10" y="1152.28" width="33.61" height="11.84" fill="#aac8ee"/>
<rect x="430.71" y="1152.28" width="11.20" height="11.84" fill="#95bff1"/>
<rect x="441.91" y="1152.28" width="22.41" height="11.84" fill="#aac8ee"/>
<rect x="464.32" y="1152.28" width="11.20" height="11.84" fill="#31a3f4"/>
<rect x="475.52" y="1152.28" width="44.81" height="11.84" fill="#3d5672"/>
<rect x="520.33" y="1152.28" width="11.20" height="11.84" fill="#2a91da"/>
<rect x="531.53" y="1152.28" width="11.21" height="11.84" fill="#95bff1"/>
<rect x="542.74" y="1152.28" width="11.20" height="11.84" fill="#31a3f4"/>
<rect x="553.94" y="1152.28" width="44.81" height="11.84" fill="#aac8ee"/>
<rect x="598.75" y="1152.28" width="11.20" height="11.84" fill="#31a3f4"/>
<rect x="609.95" y="1152.28" width="22.41" height="11.84" fill="#aac8ee"/>
<rect x="643.56" y="1152.28" width="67.22" height="11.84" fill="#aac8ee"/>
<rect x="710.78" y="1152.28" width="22.41" height="11.84" fill="#95bff1"/>
<rect x="733.19" y="1152.28" width="11.20" height="11.84" fill="#aac8ee"/>
<rect x="744.39" y="1152.28" width="11.20" height="11.84" fill="#79b5f4"/>
<rect x="755.59" y="1152.28" width="22.41" height="11.84" fill="#aac8ee"/>
<rect x="240.26" y="1164.12" width="22.40" height="11.85" fill="#aac8ee"/>
<rect x="262.66" y="1164.12" width="11.21" height="11.85" fill="#95bff1"/>
<rect x="273.87" y="1164.12" width="11.20" height="11.85" fill="#58adf6"/>
<rect x="285.07" y="1164.12" width="11.20" height="11.85" fill="#aac8ee"/>
<rect x="296.27" y="1164.12" width="22.41" height="11.85" fill="#95bff1"/>
<rect x="352.29" y="1164.12" width="11.20" height="11.85" fill="#95bff1"/>
<rect x="363.49" y="1164.12" width="11.20" height="11.85" fill="#aac8ee"/>
<rect x="374.69" y="1164.12" width="11.20" height="11.85" fill="#58adf6"/>
<rect x="385.89" y="1164.12" width="78.43" height="11.85" fill="#aac8ee"/>
<rect x="464.32" y="1164.12" width="11.20" height="11.85" fill="#396d9c"/>
<rect x="475.52" y="1164.12" width="33.61" height="11.85" fill="#3d5672"/>
<rect x="509.13" y="1164.12" width="11.20" height="11.85" fill="#396d9c"/>
<rect x="520.33" y="1164.12" width="11.20" height="11.85" fill="#3080be"/>
<rect x="531.53" y="1164.12" width="11.21" height="11.85" fill="#95bff1"/>
<rect x="542.74" y="1164.12" width="56.01" height="11.85" fill="#aac8ee"/>
<rect x="598.75" y="1164.12" width="11.20" height="11.85" fill="#31a3f4"/>
<rect x="609.95" y="1164.12" width="78.43" height="11.85" fill="#aac8ee"/>
<rect x="699.58" y="1164.12" width="67.22" height="11.85" fill="#aac8ee"/>
<rect x="240.26" y="1175.97" width="11.20" height="11.84" fill="#58adf6"/>
<rect x="262.66" y="1175.97" width="22.41" height="11.84" fill="#aac8ee"/>
<rect x="285.07" y="1175.97" width="11.20" height="11.84" fill="#95bff1"/>
<rect x="296.27" y="1175.97" width="11.20" height="11.84" fill="#aac8ee"/>
<rect x="318.68" y="1175.97" width="11.20" height="11.84" fill="#aac8ee"/>
<rect x="352.29" y="1175.97" width="89.62" height="11.84" fill="#aac8ee"/>
<rect x="453.11" y="1175.97" width="11.21" height="11.84" fill="#aac8ee"/>
<rect x="464.32" y="1175.97" width="11.20" height="11.84" fill="#31a3f4"/>
<rect x="475.52" y="1175.97" width="22.40" height="11.84" fill="#2a91da"/>
<rect x="497.92" y="1175.97" width="11.21" height="11.84" fill="#396d9c"/>
<rect x="509.13" y="1175.97" width="11.20" height="11.84" fill="#3080be"/>
<rect x="520.33" y="1175.97" width="11.20" height="11.84" fill="#95bff1"/>
<rect x="531.53" y="1175.97" width="11.21" height="11.84" fill="#79b5f4"/>
<rect x="542.74" y="1175.97" width="11.20" height="11.84" fill="#2a91da"/>
<rect x="576.35" y="1175.97" width="11.20" height="11.84" fill="#aac8ee"/>
<rect x="598.75" y="1175.97" width="33.61" height="11.84" fill="#aac8ee"/>
<rect x="632.36" y="1175.97" width="11.20" height="11.84" fill="#95bff1"/>
<rect x="643.56" y="1175.97" width="11.21" height="11.84" fill="#31a3f4"/>
<rect x="654.77" y="1175.97" width="44.81" height="11.84" fill="#95bff1"/>
<rect x="710.78" y="1175.97" width="22.41" height="11.84" fill="#aac8ee"/>
<rect x="733.19" y="1175.97" width="11.20" height="11.84" fill="#31a3f4"/>
<rect x="744.39" y="1175.97" width="11.20" height="11.84" fill="#95bff1"/>
<rect x="240.26" y="1187.81" width="22.40" height="11.84" fill="#aac8ee"/>
<rect x="262.66" y="1187.81" width="11.21" height="11.84" fill="#79b5f4"/>
<rect x="273.87" y="1187.81" width="33.60" height="11.84" fill="#aac8ee"/>
<rect x="307.47" y="1187.81" width="22.41" height="11.84" fill="#95bff1"/>
<rect x="329.88" y="1187.81" width="11.20" height="11.84" fill="#79b5f4"/>
<rect x="341.08" y="1187.81" width="78.42" height="11.84" fill="#aac8ee"/>
<rect x="441.91" y="1187.81" width="11.20" height="11.84" fill="#aac8ee"/>
<rect x="464.32" y="1187.81" width="11.20" height="11.84" fill="#95bff1"/>
<rect x="475.52" y="1187.81" width="44.81" height="11.84" fill="#31a3f4"/>
<rect x="520.33" y="1187.81" width="11.20" height="11.84" fill="#2a91da"/>
<rect x="531.53" y="1187.81" width="11.21" height="11.84" fill="#79b5f4"/>
<rect x="542.74" y="1187.81" width="22.40" height="11.84" fill="#aac8ee"/>
<rect x="565.14" y="1187.81" width="11.21" height="11.84" fill="#79b5f4"/>
<rect x="576.35" y="1187.81" width="11.20" height="11.84" fill="#aac8ee"/>
<rect x="598.75" y="1187.81" width="11.20" height="11.84" fill="#aac8ee"/>
<rect x="609.95" y="1187.81" width="11.21" height="11.84" fill="#95bff1"/>
<rect x="621.16" y="1187.81" width="11.20" height="11.84" fill="#aac8ee"/>
<rect x="632.36" y="1187.81" width="22.41" height="11.84" fill="#95bff1"/>
<rect x="665.97" y="1187.81" width="11.20" height="11.84" fill="#95bff1"/>
<rect x="699.58" y="1187.81" width="56.01" height="11.84" fill="#95bff1"/>
<rect x="217.85" y="1199.65" width="22.41" height="11.85" fill="#aac8ee"/>
<rect x="251.46" y="1199.65" width="44.81" height="11.85" fill="#aac8ee"/>
<rect x="296.27" y="1199.65" width="33.61" height="11.85" fill="#95bff1"/>
<rect x="329.88" y="1199.65" width="22.41" height="11.85" fill="#aac8ee"/>
<rect x="363.49" y="1199.65" width="11.20" height="11.85" fill="#aac8ee"/>
<rect x="385.89" y="1199.65" width="11.21" height="11.85" fill="#aac8ee"/>
<rect x="408.30" y="1199.65" width="11.20" height="11.85" fill="#95bff1"/>
<rect x="441.91" y="1199.65" width="22.41" height="11.85" fill="#aac8ee"/>
<rect x="464.32" y="1199.65" width="11.20" height="11.85" fill="#58adf6"/>
<rect x="475.52" y="1199.65" width="11.20" height="11.85" fill="#aac8ee"/>
<rect x="486.72" y="1199.65" width="11.20" height="11.85" fill="#58adf6"/>
<rect x="497.92" y="1199.65" width="22.41" height="11.85" fill="#79b5f4"/>
<rect x="520.33" y="1199.65" width="11.20" height="11.85" fill="#aac8ee"/>
<rect x="531.53" y="1199.65" width="11.21" height="11.85" fill="#58adf6"/>
<rect x="542.74" y="1199.65" width="33.61" height="11.85" fill="#aac8ee"/>
<rect x="587.55" y="1199.65" width="11.20" height="11.85" fill="#79b5f4"/>
<rect x="609.95" y="1199.65" width="11.21" height="11.85" fill="#aac8ee"/>
<rect x="632.36" y="1199.65" width="11.20" height="11.85" fill="#aac8ee"/>
<rect x="643.56" y="1199.65" width="11.21" height="11.85" fill="#95bff1"/>
<rect x="654.77" y="1199.65" width="11.20" height="11.85" fill="#aac8ee"/>
<rect x="665.97" y="1199.65" width="11.20" height="11.85" fill="#95bff1"/>
<rect x="677.17" y="1199.65" width="44.82" height="11.85" fill="#aac8ee"/>
<rect x="721.99" y="1199.65" width="11.20" height="11.85" fill="#79b5f4"/>
<rect x="733.19" y="1199.65" width="22.40" height="11.85" fill="#aac8ee"/>
<rect x="755.59" y="1199.65" width="11.21" height="11.85" fill="#95bff1"/>
<rect x="217.85" y="1211.50" width="33.61" height="11.85" fill="#aac8ee"/>
<rect x="262.66" y="1211.50" width="11.21" height="11.85" fill="#aac8ee"/>
<rect x="273.87" y="1211.50" width="22.40" height="11.85" fill="#95bff1"/>
<rect x="296.27" y="1211.50" width="44.81" height="11.85" fill="#aac8ee"/>
<rect x="374.69" y="1211.50" width="11.20" height="11.85" fill="#95bff1"/>
<rect x="385.89" y="1211.50" width="11.21" height="11.85" fill="#aac8ee"/>
<rect x="430.71" y="1211.50" width="33.61" height="11.85" fill="#95bff1"/>
<rect x="464.32" y="1211.50" width="11.20" height="11.85" fill="#79b5f4"/>
<rect x="475.52" y="1211.50" width="11.20" height="11.85" fill="#aac8ee"/>
<rect x="486.72" y="1211.50" width="11.20" height="11.85" fill="#31a3f4"/>
<rect x="497.92" y="1211.50" width="11.21" height="11.85" fill="#95bff1"/>
<rect x="509.13" y="1211.50" width="11.20" height="11.85" fill="#58adf6"/>
<rect x="520.33" y="1211.50" width="11.20" height="11.85" fill="#aac8ee"/>
<rect x="531.53" y="1211.50" width="11.21" height="11.85" fill="#58adf6"/>
<rect x="542.74" y="1211.50" width="11.20" height="11.85" fill="#aac8ee"/>
<rect x="576.35" y="1211.50" width="56.01" height="11.85" fill="#aac8ee"/>
<rect x="632.36" y="1211.50" width="11.20" height="11.85" fill="#95bff1"/>
<rect x="643.56" y="1211.50" width="11.21" height="11.85" fill="#aac8ee"/>
<rect x="677.17" y="1211.50" width="11.21" height="11.85" fill="#95bff1"/>
<rect x="688.38" y="1211.50" width="11.20" height="11.85" fill="#aac8ee"/>
<rect x="699.58" y="1211.50" width="11.20" height="11.85" fill="#95bff1"/>
<rect x="710.78" y="1211.50" width="11.21" height="11.85" fill="#aac8ee"/>
<rect x="721.99" y="1211.50" width="33.60" height="11.85" fill="#95bff1"/>
<rect x="240.26" y="1223.35" width="22.40" height="11.84" fill="#aac8ee"/>
<rect x="273.87" y="1223.35" width="22.40" height="11.84" fill="#aac8ee"/>
<rect x="296.27" y="1223.35" width="11.20" height="11.84" fill="#95bff1"/>
<rect x="329.88" y="1223.35" width="11.20" height="11.84" fill="#aac8ee"/>
<rect x="385.89" y="1223.35" width="22.41" height="11.84" fill="#aac8ee"/>
<rect x="419.50" y="1223.35" width="22.41" height="11.84" fill="#aac8ee"/>
<rect x="453.11" y="1223.35" width="11.21" height="11.84" fill="#3080be"/>
<rect x="464.32" y="1223.35" width="11.20" height="11.84" fill="#aac8ee"/>
<rect x="475.52" y="1223.35" width="11.20" height="11.84" fill="#79b5f4"/>
<rect x="486.72" y="1223.35" width="11.20" height="11.84" fill="#aac8ee"/>
<rect x="497.92" y="1223.35" width="22.41" height="11.84" fill="#79b5f4"/>
<rect x="520.33" y="1223.35" width="22.41" height="11.84" fill="#aac8ee"/>
<rect x="553.94" y="1223.35" width="11.20" height="11.84" fill="#aac8ee"/>
<rect x="576.35" y="1223.35" width="22.40" height="11.84" fill="#aac8ee"/>
<rect x="609.95" y="1223.35" width="22.41" height="11.84" fill="#aac8ee"/>
<rect x="654.77" y="1223.35" width="11.20" height="11.84" fill="#aac8ee"/>
<rect x="677.17" y="1223.35" width="11.21" height="11.84" fill="#aac8ee"/>
<rect x="688.38" y="1223.35" width="11.20" height="11.84" fill="#95bff1"/>
<rect x="699.58" y="1223.35" width="11.20" height="11.84" fill="#aac8ee"/>
<rect x="710.78" y="1223.35" width="11.21" height="11.84" fill="#79b5f4"/>
<rect x="721.99" y="1223.35" width="33.60" height="11.84" fill="#aac8ee"/>
<rect x="755.59" y="1223.35" width="11.21" height="11.84" fill="#95bff1"/>
<rect x="240.26" y="1235.19" width="11.20" height="11.85" fill="#aac8ee"/>
<rect x="251.46" y="1235.19" width="11.20" height="11.85" fill="#79b5f4"/>
<rect x="262.66" y="1235.19" width="11.21" height="11.85" fill="#aac8ee"/>
<rect x="285.07" y="1235.19" width="11.20" height="11.85" fill="#95bff1"/>
<rect x="307.47" y="1235.19" width="11.21" height="11.85" fill="#aac8ee"/>
<rect x="352.29" y="1235.19" width="11.20" height="11.85" fill="#aac8ee"/>
<rect x="408.30" y="1235.19" width="11.20" height="11.85" fill="#95bff1"/>
<rect x="430.71" y="1235.19" width="56.01" height="11.85" fill="#aac8ee"/>
<rect x="486.72" y="1235.19" width="33.61" height="11.85" fill="#95bff1"/>
<rect x="520.33" y="1235.19" width="44.81" height="11.85" fill="#aac8ee"/>
<rect x="576.35" y="1235.19" width="11.20" height="11.85" fill="#aac8ee"/>
<rect x="598.75" y="1235.19" width="11.20" height="11.85" fill="#aac8ee"/>
<rect x="643.56" y="1235.19" width="11.21" height="11.85" fill="#aac8ee"/>
<rect x="665.97" y="1235.19" width="22.41" height="11.85" fill="#95bff1"/>
<rect x="688.38" y="1235.19" width="89.62" height="11.85" fill="#aac8ee"/>
<rect x="240.26" y="1247.04" width="33.61" height="11.84" fill="#aac8ee"/>
<rect x="307.47" y="1247.04" width="11.21" height="11.84" fill="#aac8ee"/>
<rect x="318.68" y="1247.04" width="11.20" height="11.84" fill="#95bff1"/>
<rect x="329.88" y="1247.04" width="44.81" height="11.84" fill="#aac8ee"/>
<rect x="397.10" y="1247.04" width="11.20" height="11.84" fill="#95bff1"/>
<rect x="408.30" y="1247.04" width="44.81" height="11.84" fill="#aac8ee"/>
<rect x="453.11" y="1247.04" width="11.21" height="11.84" fill="#95bff1"/>
<rect x="464.32" y="1247.04" width="11.20" height="11.84" fill="#396d9c"/>
<rect x="475.52" y="1247.04" width="11.20" height="11.84" fill="#79b5f4"/>
<rect x="486.72" y="1247.04" width="11.20" height="11.84" fill="#aac8ee"/>
<rect x="497.92" y="1247.04" width="11.21" height="11.84" fill="#79b5f4"/>
<rect x="509.13" y="1247.04" width="11.20" height="11.84" fill="#396d9c"/>
<rect x="520.33" y="1247.04" width="22.41" height="11.84" fill="#aac8ee"/>
<rect x="553.94" y="1247.04" width="11.20" height="11.84" fill="#aac8ee"/>
<rect x="576.35" y="1247.04" width="44.81" height="11.84" fill="#aac8ee"/>
<rect x="643.56" y="1247.04" width="11.21" height="11.84" fill="#95bff1"/>
<rect x="654.77" y="1247.04" width="11.20" height="11.84" fill="#aac8ee"/>
<rect x="677.17" y="1247.04" width="11.21" height="11.84" fill="#aac8ee"/>
<rect x="699.58" y="1247.04" width="11.20" height="11.84" fill="#58adf6"/>
<rect x="710.78" y="1247.04" width="11.21" height="11.84" fill="#aac8ee"/>
<rect x="721.99" y="1247.04" width="11.20" height="11.84" fill="#79b5f4"/>
<rect x="733.19" y="1247.04" width="11.20" height="11.84" fill="#95bff1"/>
<rect x="744.39" y="1247.04" width="33.61" height="11.84" fill="#aac8ee"/>
<rect x="229.05" y="1258.88" width="33.61" height="11.85" fill="#aac8ee"/>
<rect x="262.66" y="1258.88" width="11.21" height="11.85" fill="#79b5f4"/>
<rect x="273.87" y="1258.88" width="11.20" height="11.85" fill="#aac8ee"/>
<rect x="307.47" y="1258.88" width="11.21" height="11.85" fill="#aac8ee"/>
<rect x="329.88" y="1258.88" width="11.20" height="11.85" fill="#aac8ee"/>
<rect x="352.29" y="1258.88" width="11.20" height="11.85" fill="#79b5f4"/>
<rect x="363.49" y="1258.88" width="11.20" height="11.85" fill="#95bff1"/>
<rect x="374.69" y="1258.88" width="11.20" height="11.85" fill="#aac8ee"/>
<rect x="419.50" y="1258.88" width="33.61" height="11.85" fill="#aac8ee"/>
<rect x="453.11" y="1258.88" width="33.61" height="11.85" fill="#95bff1"/>
<rect x="486.72" y="1258.88" width="11.20" height="11.85" fill="#58adf6"/>
<rect x="497.92" y="1258.88" width="11.21" height="11.85" fill="#79b5f4"/>
<rect x="509.13" y="1258.88" width="11.20" height="11.85" fill="#aac8ee"/>
<rect x="520.33" y="1258.88" width="11.20" height="11.85" fill="#79b5f4"/>
<rect x="531.53" y="1258.88" width="11.21" height="11.85" fill="#aac8ee"/>
<rect x="565.14" y="1258.88" width="11.21" height="11.85" fill="#aac8ee"/>
<rect x="587.55" y="1258.88" width="11.20" height="11.85" fill="#aac8ee"/>
<rect x="598.75" y="1258.88" width="11.20" height="11.85" fill="#95bff1"/>
<rect x="609.95" y="1258.88" width="11.21" height="11.85" fill="#aac8ee"/>
<rect x="643.56" y="1258.88" width="11.21" height="11.85" fill="#aac8ee"/>
<rect x="665.97" y="1258.88" width="22.41" height="11.85" fill="#aac8ee"/>
<rect x="688.38" y="1258.88" width="22.40" height="11.85" fill="#95bff1"/>
<rect x="721.99" y="1258.88" width="11.20" height="11.85" fill="#aac8ee"/>
<rect x="733.19" y="1258.88" width="11.20" height="11.85" fill="#79b5f4"/>
<rect x="744.39" y="1258.88" width="11.20" height="11.85" fill="#aac8ee"/>
<rect x="766.80" y="1258.88" width="11.20" height="11.85" fill="#aac8ee"/>
<rect x="229.05" y="1270.73" width="11.21" height="11.84" fill="#95bff1"/>
<rect x="240.26" y="1270.73" width="44.81" height="11.84" fill="#aac8ee"/>
<rect x="285.07" y="1270.73" width="11.20" height="11.84" fill="#79b5f4"/>
<rect x="307.47" y="1270.73" width="22.41" height="11.84" fill="#aac8ee"/>
<rect x="329.88" y="1270.73" width="11.20" height="11.84" fill="#95bff1"/>
<rect x="341.08" y="1270.73" width="22.41" height="11.84" fill="#aac8ee"/>
<rect x="397.10" y="1270.73" width="11.20" height="11.84" fill="#95bff1"/>
<rect x="408.30" y="1270.73" width="11.20" height="11.84" fill="#aac8ee"/>
<rect x="419.50" y="1270.73" width="11.21" height="11.84" fill="#2a91da"/>
<rect x="430.71" y="1270.73" width="11.20" height="11.84" fill="#aac8ee"/>
<rect x="453.11" y="1270.73" width="11.21" height="11.84" fill="#aac8ee"/>
<rect x="464.32" y="1270.73" width="67.21" height="11.84" fill="#95bff1"/>
<rect x="531.53" y="1270.73" width="22.41" height="11.84" fill="#aac8ee"/>
<rect x="587.55" y="1270.73" width="22.40" height="11.84" fill="#aac8ee"/>
<rect x="609.95" y="1270.73" width="11.21" height="11.84" fill="#95bff1"/>
<rect x="621.16" y="1270.73" width="44.81" height="11.84" fill="#aac8ee"/>
<rect x="665.97" y="1270.73" width="22.41" height="11.84" fill="#95bff1"/>
<rect x="699.58" y="1270.73" width="11.20" height="11.84" fill="#aac8ee"/>
<rect x="710.78" y="1270.73" width="11.21" height="11.84" fill="#95bff1"/>
<rect x="721.99" y="1270.73" width="11.20" height="11.84" fill="#aac8ee"/>
<rect x="733.19" y="1270.73" width="11.20" height="11.84" fill="#79b5f4"/>
<rect x="744.39" y="1270.73" width="11.20" height="11.84" fill="#aac8ee"/>
<rect x="766.80" y="1270.73" width="11.20" height="11.84" fill="#aac8ee"/>
<rect x="229.05" y="1282.57" width="11.21" height="11.84" fill="#aac8ee"/>
<rect x="240.26" y="1282.57" width="11.20" height="11.84" fill="#95bff1"/>
<rect x="251.46" y="1282.57" width="11.20" height="11.84" fill="#aac8ee"/>
<rect x="262.66" y="1282.57" width="22.41" height="11.84" fill="#79b5f4"/>
<rect x="285.07" y="1282.57" width="11.20" height="11.84" fill="#396d9c"/>
<rect x="296.27" y="1282.57" width="44.81" height="11.84" fill="#aac8ee"/>
<rect x="363.49" y="1282.57" width="22.40" height="11.84" fill="#95bff1"/>
<rect x="397.10" y="1282.57" width="11.20" height="11.84" fill="#95bff1"/>
<rect x="408.30" y="1282.57" width="11.20" height="11.84" fill="#aac8ee"/>
<rect x="430.71" y="1282.57" width="112.03" height="11.84" fill="#aac8ee"/>
<rect x="576.35" y="1282.57" width="56.01" height="11.84" fill="#aac8ee"/>
<rect x="643.56" y="1282.57" width="78.43" height="11.84" fill="#aac8ee"/>
<rect x="721.99" y="1282.57" width="11.20" height="11.84" fill="#58adf6"/>
<rect x="733.19" y="1282.57" width="11.20" height="11.84" fill="#95bff1"/>
<rect x="744.39" y="1282.57" width="11.20" height="11.84" fill="#58adf6"/>
<rect x="755.59" y="1282.57" width="11.21" height="11.84" fill="#aac8ee"/>
<rect x="217.85" y="1294.41" width="33.61" height="11.85" fill="#aac8ee"/>
<rect x="251.46" y="1294.41" width="11.20" height="11.85" fill="#79b5f4"/>
<rect x="262.66" y="1294.41" width="33.61" height="11.85" fill="#95bff1"/>
<rect x="296.27" y="1294.41" width="33.61" height="11.85" fill="#aac8ee"/>
<rect x="341.08" y="1294.41" width="11.21" height="11.85" fill="#aac8ee"/>
<rect x="374.69" y="1294.41" width="22.41" height="11.85" fill="#aac8ee"/>
<rect x="408.30" y="1294.41" width="22.41" height="11.85" fill="#95bff1"/>
<rect x="464.32" y="1294.41" width="11.20" height="11.85" fill="#aac8ee"/>
<rect x="475.52" y="1294.41" width="11.20" height="11.85" fill="#95bff1"/>
<rect x="486.72" y="1294.41" width="11.20" height="11.85" fill="#aac8ee"/>
<rect x="497.92" y="1294.41" width="11.21" height="11.85" fill="#79b5f4"/>
<rect x="509.13" y="1294.41" width="11.20" height="11.85" fill="#aac8ee"/>
<rect x="520.33" y="1294.41" width="11.20" height="11.85" fill="#95bff1"/>
<rect x="531.53" y="1294.41" width="22.41" height="11.85" fill="#aac8ee"/>
<rect x="587.55" y="1294.41" width="33.61" height="11.85" fill="#aac8ee"/>
<rect x="643.56" y="1294.41" width="33.61" height="11.85" fill="#aac8ee"/>
<rect x="677.17" y="1294.41" width="22.41" height="11.85" fill="#79b5f4"/>
<rect x="699.58" y="1294.41" width="11.20" height="11.85" fill="#58adf6"/>
<rect x="710.78" y="1294.41" width="22.41" height="11.85" fill="#79b5f4"/>
<rect x="229.05" y="1306.26" width="11.21" height="11.85" fill="#aac8ee"/>
<rect x="251.46" y="1306.26" width="22.41" height="11.85" fill="#95bff1"/>
<rect x="273.87" y="1306.26" width="11.20" height="11.85" fill="#aac8ee"/>
<rect x="285.07" y="1306.26" width="11.20" height="11.85" fill="#79b5f4"/>
<rect x="296.27" y="1306.26" width="11.20" height="11.85" fill="#95bff1"/>
<rect x="318.68" y="1306.26" width="33.61" height="11.85" fill="#aac8ee"/>
<rect x="352.29" y="1306.26" width="11.20" height="11.85" fill="#79b5f4"/>
<rect x="374.69" y="1306.26" width="11.20" height="11.85" fill="#aac8ee"/>
<rect x="397.10" y="1306.26" width="11.20" height="11.85" fill="#aac8ee"/>
<rect x="430.71" y="1306.26" width="11.20" height="11.85" fill="#79b5f4"/>
<rect x="441.91" y="1306.26" width="11.20" height="11.85" fill="#95bff1"/>
<rect x="453.11" y="1306.26" width="11.21" height="11.85" fill="#aac8ee"/>
<rect x="464.32" y="1306.26" width="11.20" height="11.85" fill="#95bff1"/>
<rect x="486.72" y="1306.26" width="11.20" height="11.85" fill="#aac8ee"/>
<rect x="497.92" y="1306.26" width="11.21" height="11.85" fill="#58adf6"/>
<rect x="509.13" y="1306.26" width="22.40" height="11.85" fill="#95bff1"/>
<rect x="531.53" y="1306.26" width="22.41" height="11.85" fill="#aac8ee"/>
<rect x="565.14" y="1306.26" width="11.21" height="11.85" fill="#aac8ee"/>
<rect x="587.55" y="1306.26" width="11.20" height="11.85" fill="#aac8ee"/>
<rect x="609.95" y="1306.26" width="22.41" height="11.85" fill="#95bff1"/>
<rect x="665.97" y="1306.26" width="22.41" height="11.85" fill="#aac8ee"/>
<rect x="688.38" y="1306.26" width="11.20" height="11.85" fill="#79b5f4"/>
<rect x="699.58" y="1306.26" width="11.20" height="11.85" fill="#aac8ee"/>
<rect x="710.78" y="1306.26" width="11.21" height="11.85" fill="#79b5f4"/>
<rect x="721.99" y="1306.26" width="11.20" height="11.85" fill="#aac8ee"/>
<rect x="240.26" y="1318.11" width="11.20" height="11.84" fill="#95bff1"/>
<rect x="251.46" y="1318.11" width="22.41" height="11.84" fill="#aac8ee"/>
<rect x="273.87" y="1318.11" width="11.20" height="11.84" fill="#31a3f4"/>
<rect x="285.07" y="1318.11" width="33.61" height="11.84" fill="#95bff1"/>
<rect x="329.88" y="1318.11" width="11.20" height="11.84" fill="#aac8ee"/>
<rect x="363.49" y="1318.11" width="33.61" height="11.84" fill="#aac8ee"/>
<rect x="408.30" y="1318.11" width="11.20" height="11.84" fill="#aac8ee"/>
<rect x="453.11" y="1318.11" width="11.21" height="11.84" fill="#aac8ee"/>
<rect x="475.52" y="1318.11" width="22.40" height="11.84" fill="#aac8ee"/>
<rect x="509.13" y="1318.11" width="11.20" height="11.84" fill="#aac8ee"/>
<rect x="531.53" y="1318.11" width="22.41" height="11.84" fill="#aac8ee"/>
<rect x="587.55" y="1318.11" width="11.20" height="11.84" fill="#95bff1"/>
<rect x="598.75" y="1318.11" width="22.41" height="11.84" fill="#aac8ee"/>
<rect x="665.97" y="1318.11" width="11.20" height="11.84" fill="#58adf6"/>
<rect x="677.17" y="1318.11" width="11.21" height="11.84" fill="#95bff1"/>
<rect x="688.38" y="1318.11" width="44.81" height="11.84" fill="#aac8ee"/>
<rect x="733.19" y="1318.11" width="22.40" height="11.84" fill="#95bff1"/>
<rect x="755.59" y="1318.11" width="11.21" height="11.84" fill="#aac8ee"/>
<rect x="229.05" y="1329.95" width="11.21" height="11.85" fill="#95bff1"/>
<rect x="251.46" y="1329.95" width="11.20" height="11.85" fill="#aac8ee"/>
<rect x="262.66" y="1329.95" width="33.61" height="11.85" fill="#95bff1"/>
<rect x="296.27" y="1329.95" width="11.20" height="11.85" fill="#58adf6"/>
<rect x="307.47" y="1329.95" width="22.41" height="11.85" fill="#aac8ee"/>
<rect x="329.88" y="1329.95" width="11.20" height="11.85" fill="#79b5f4"/>
<rect x="341.08" y="1329.95" width="11.21" height="11.85" fill="#aac8ee"/>
<rect x="385.89" y="1329.95" width="11.21" height="11.85" fill="#aac8ee"/>
<rect x="408.30" y="1329.95" width="11.20" height="11.85" fill="#95bff1"/>
<rect x="430.71" y="1329.95" width="33.61" height="11.85" fill="#aac8ee"/>
<rect x="486.72" y="1329.95" width="11.20" height="11.85" fill="#aac8ee"/>
<rect x="497.92" y="1329.95" width="11.21" height="11.85" fill="#95bff1"/>
<rect x="509.13" y="1329.95" width="33.61" height="11.85" fill="#aac8ee"/>
<rect x="553.94" y="1329.95" width="11.20" height="11.85" fill="#95bff1"/>
<rect x="576.35" y="1329.95" width="11.20" height="11.85" fill="#aac8ee"/>
<rect x="598.75" y="1329.95" width="11.20" height="11.85" fill="#aac8ee"/>
<rect x="609.95" y="1329.95" width="22.41" height="11.85" fill="#95bff1"/>
<rect x="632.36" y="1329.95" width="67.22" height="11.85" fill="#aac8ee"/>
<rect x="699.58" y="1329.95" width="11.20" height="11.85" fill="#95bff1"/>
<rect x="710.78" y="1329.95" width="11.21" height="11.85" fill="#aac8ee"/>
<rect x="721.99" y="1329.95" width="22.40" height="11.85" fill="#95bff1"/>
<rect x="744.39" y="1329.95" width="11.20" height="11.85" fill="#aac8ee"/>
<rect x="755.59" y="1329.95" width="11.21" height="11.85" fill="#95bff1"/>
<rect x="251.46" y="1341.80" width="22.41" height="11.84" fill="#aac8ee"/>
<rect x="273.87" y="1341.80" width="11.20" height="11.84" fill="#79b5f4"/>
<rect x="285.07" y="1341.80" width="11.20" height="11.84" fill="#95bff1"/>
<rect x="296.27" y="1341.80" width="11.20" height="11.84" fill="#aac8ee"/>
<rect x="307.47" y="1341.80" width="11.21" height="11.84" fill="#95bff1"/>
<rect x="318.68" y="1341.80" width="11.20" height="11.84" fill="#aac8ee"/>
<rect x="341.08" y="1341.80" width="22.41" height="11.84" fill="#aac8ee"/>
<rect x="374.69" y="1341.80" width="11.20" height="11.84" fill="#aac8ee"/>
<rect x="385.89" y="1341.80" width="11.21" height="11.84" fill="#79b5f4"/>
<rect x="430.71" y="1341.80" width="22.40" height="11.84" fill="#95bff1"/>
<rect x="453.11" y="1341.80" width="11.21" height="11.84" fill="#aac8ee"/>
<rect x="475.52" y="1341.80" width="22.40" height="11.84" fill="#aac8ee"/>
<rect x="509.13" y="1341.80" width="44.81" height="11.84" fill="#aac8ee"/>
<rect x="587.55" y="1341.80" width="11.20" height="11.84" fill="#aac8ee"/>
<rect x="609.95" y="1341.80" width="11.21" height="11.84" fill="#aac8ee"/>
<rect x="643.56" y="1341.80" width="22.41" height="11.84" fill="#95bff1"/>
<rect x="665.97" y="1341.80" width="11.20" height="11.84" fill="#aac8ee"/>
<rect x="677.17" y="1341.80" width="22.41" height="11.84" fill="#95bff1"/>
<rect x="710.78" y="1341.80" width="44.81" height="11.84" fill="#aac8ee"/>
<rect x="251.46" y="1353.64" width="11.20" height="11.85" fill="#aac8ee"/>
<rect x="262.66" y="1353.64" width="11.21" height="11.85" fill="#95bff1"/>
<rect x="273.87" y="1353.64" width="11.20" height="11.85" fill="#aac8ee"/>
<rect x="285.07" y="1353.64" width="22.40" height="11.85" fill="#95bff1"/>
<rect x="307.47" y="1353.64" width="11.21" height="11.85" fill="#31a3f4"/>
<rect x="318.68" y="1353.64" width="11.20" height="11.85" fill="#aac8ee"/>
<rect x="341.08" y="1353.64" width="11.21" height="11.85" fill="#aac8ee"/>
<rect x="363.49" y="1353.64" width="11.20" height="11.85" fill="#aac8ee"/>
<rect x="464.32" y="1353.64" width="22.40" height="11.85" fill="#aac8ee"/>
<rect x="497.92" y="1353.64" width="11.21" height="11.85" fill="#95bff1"/>
<rect x="509.13" y="1353.64" width="22.40" height="11.85" fill="#aac8ee"/>
<rect x="542.74" y="1353.64" width="11.20" height="11.85" fill="#aac8ee"/>
<rect x="565.14" y="1353.64" width="11.21" height="11.85" fill="#95bff1"/>
<rect x="576.35" y="1353.64" width="22.40" height="11.85" fill="#aac8ee"/>
<rect x="609.95" y="1353.64" width="11.21" height="11.85" fill="#aac8ee"/>
<rect x="632.36" y="1353.64" width="44.81" height="11.85" fill="#aac8ee"/>
<rect x="677.17" y="1353.64" width="33.61" height="11.85" fill="#95bff1"/>
<rect x="721.99" y="1353.64" width="33.60" height="11.85" fill="#95bff1"/>
<rect x="251.46" y="1365.49" width="33.61" height="11.84" fill="#aac8ee"/>
<rect x="285.07" y="1365.49" width="33.61" height="11.84" fill="#95bff1"/>
<rect x="318.68" y="1365.49" width="22.40" height="11.84" fill="#aac8ee"/>
<rect x="341.08" y="1365.49" width="11.21" height="11.84" fill="#95bff1"/>
<rect x="363.49" y="1365.49" width="11.20" height="11.84" fill="#95bff1"/>
<rect x="408.30" y="1365.49" width="11.20" height="11.84" fill="#aac8ee"/>
<rect x="430.71" y="1365.49" width="33.61" height="11.84" fill="#aac8ee"/>
<rect x="475.52" y="1365.49" width="11.20" height="11.84" fill="#95bff1"/>
<rect x="486.72" y="1365.49" width="11.20" height="11.84" fill="#aac8ee"/>
<rect x="509.13" y="1365.49" width="11.20" height="11.84" fill="#79b5f4"/>
<rect x="520.33" y="1365.49" width="11.20" height="11.84" fill="#95bff1"/>
<rect x="542.74" y="1365.49" width="44.81" height="11.84" fill="#aac8ee"/>
<rect x="587.55" y="1365.49" width="11.20" height="11.84" fill="#2a91da"/>
<rect x="609.95" y="1365.49" width="33.61" height="11.84" fill="#aac8ee"/>
<rect x="643.56" y="1365.49" width="11.21" height="11.84" fill="#79b5f4"/>
<rect x="654.77" y="1365.49" width="22.40" height="11.84" fill="#95bff1"/>
<rect x="677.17" y="1365.49" width="11.21" height="11.84" fill="#aac8ee"/>
<rect x="699.58" y="1365.49" width="22.41" height="11.84" fill="#aac8ee"/>
<rect x="733.19" y="1365.49" width="11.20" height="11.84" fill="#aac8ee"/>
<rect x="229.05" y="1377.33" width="11.21" height="11.85" fill="#95bff1"/>
<rect x="262.66" y="1377.33" width="11.21" height="11.85" fill="#aac8ee"/>
<rect x="285.07" y="1377.33" width="22.40" height="11.85" fill="#aac8ee"/>
<rect x="341.08" y="1377.33" width="11.21" height="11.85" fill="#aac8ee"/>
<rect x="363.49" y="1377.33" width="11.20" height="11.85" fill="#79b5f4"/>
<rect x="374.69" y="1377.33" width="22.41" height="11.85" fill="#95bff1"/>
<rect x="453.11" y="1377.33" width="11.21" height="11.85" fill="#aac8ee"/>
<rect x="475.52" y="1377.33" width="11.20" height="11.85" fill="#aac8ee"/>
<rect x="486.72" y="1377.33" width="44.81" height="11.85" fill="#95bff1"/>
<rect x="576.35" y="1377.33" width="11.20" height="11.85" fill="#aac8ee"/>
<rect x="598.75" y="1377.33" width="11.20" height="11.85" fill="#95bff1"/>
<rect x="609.95" y="1377.33" width="11.21" height="11.85" fill="#aac8ee"/>
<rect x="632.36" y="1377.33" width="22.41" height="11.85" fill="#aac8ee"/>
<rect x="654.77" y="1377.33" width="11.20" height="11.85" fill="#79b5f4"/>
<rect x="665.97" y="1377.33" width="22.41" height="11.85" fill="#aac8ee"/>
<rect x="744.39" y="1377.33" width="11.20" height="11.85" fill="#aac8ee"/>
<rect x="285.07" y="1389.18" width="11.20" height="11.84" fill="#aac8ee"/>
<rect x="307.47" y="1389.18" width="11.21" height="11.84" fill="#aac8ee"/>
<rect x="329.88" y="1389.18" width="11.20" height="11.84" fill="#aac8ee"/>
<rect x="363.49" y="1389.18" width="11.20" height="11.84" fill="#aac8ee"/>
<rect x="408.30" y="1389.18" width="67.22" height="11.84" fill="#aac8ee"/>
<rect x="486.72" y="1389.18" width="11.20" height="11.84" fill="#aac8ee"/>
<rect x="531.53" y="1389.18" width="22.41" height="11.84" fill="#aac8ee"/>
<rect x="565.14" y="1389.18" width="11.21" height="11.84" fill="#aac8ee"/>
<rect x="587.55" y="1389.18" width="11.20" height="11.84" fill="#aac8ee"/>
<rect x="609.95" y="1389.18" width="11.21" height="11.84" fill="#aac8ee"/>
<rect x="632.36" y="1389.18" width="22.41" height="11.84" fill="#aac8ee"/>
<rect x="665.97" y="1389.18" width="22.41" height="11.84" fill="#aac8ee"/>
<rect x="699.58" y="1389.18" width="11.20" height="11.84" fill="#95bff1"/>
<rect x="710.78" y="1389.18" width="11.21" height="11.84" fill="#aac8ee"/>
<rect x="262.66" y="1401.02" width="22.41" height="11.85" fill="#aac8ee"/>
<rect x="307.47" y="1401.02" width="11.21" height="11.85" fill="#aac8ee"/>
<rect x="318.68" y="1401.02" width="11.20" height="11.85" fill="#95bff1"/>
<rect x="352.29" y="1401.02" width="11.20" height="11.85" fill="#aac8ee"/>
<rect x="385.89" y="1401.02" width="22.41" height="11.85" fill="#95bff1"/>
<rect x="408.30" y="1401.02" width="44.81" height="11.85" fill="#aac8ee"/>
<rect x="453.11" y="1401.02" width="11.21" height="11.85" fill="#95bff1"/>
<rect x="475.52" y="1401.02" width="33.61" height="11.85" fill="#aac8ee"/>
<rect x="520.33" y="1401.02" width="44.81" height="11.85" fill="#aac8ee"/>
<rect x="621.16" y="1401.02" width="11.20" height="11.85" fill="#79b5f4"/>
<rect x="632.36" y="1401.02" width="11.20" height="11.85" fill="#aac8ee"/>
<rect x="654.77" y="1401.02" width="67.22" height="11.85" fill="#aac8ee"/>
<rect x="318.68" y="1412.87" width="11.20" height="11.84" fill="#aac8ee"/>
<rect x="397.10" y="1412.87" width="33.61" height="11.84" fill="#aac8ee"/>
<rect x="453.11" y="1412.87" width="11.21" height="11.84" fill="#aac8ee"/>
<rect x="475.52" y="1412.87" width="11.20" height="11.84" fill="#aac8ee"/>
<rect x="497.92" y="1412.87" width="33.61" height="11.84" fill="#aac8ee"/>
<rect x="542.74" y="1412.87" width="11.20" height="11.84" fill="#aac8ee"/>
<rect x="609.95" y="1412.87" width="33.61" height="11.84" fill="#aac8ee"/>
<rect x="643.56" y="1412.87" width="11.21" height="11.84" fill="#95bff1"/>
<rect x="654.77" y="1412.87" width="67.22" height="11.84" fill="#aac8ee"/>
<rect x="251.46" y="1424.71" width="11.20" height="11.85" fill="#aac8ee"/>
<rect x="374.69" y="1424.71" width="22.41" height="11.85" fill="#aac8ee"/>
<rect x="464.32" y="1424.71" width="56.01" height="11.85" fill="#aac8ee"/>
<rect x="621.16" y="1424.71" width="22.40" height="11.85" fill="#aac8ee"/>
<rect x="654.77" y="1424.71" width="22.40" height="11.85" fill="#aac8ee"/>
<rect x="677.17" y="1424.71" width="11.21" height="11.85" fill="#95bff1"/>
<rect x="688.38" y="1424.71" width="11.20" height="11.85" fill="#aac8ee"/>
<rect x="318.68" y="1436.56" width="11.20" height="11.84" fill="#aac8ee"/>
<rect x="464.32" y="1436.56" width="11.20" height="11.84" fill="#aac8ee"/>
<rect x="497.92" y="1436.56" width="11.21" height="11.84" fill="#aac8ee"/>
<rect x="520.33" y="1436.56" width="11.20" height="11.84" fill="#aac8ee"/>
</g>
<g shape-rendering="crispEdges">
<rect x="1247.41" y="856.25" width="78.50" height="11.85" fill="#aac8ee"/>
<rect x="1348.35" y="856.25" width="78.50" height="11.85" fill="#aac8ee"/>
<rect x="1438.07" y="856.25" width="22.42" height="11.85" fill="#aac8ee"/>
<rect x="1191.34" y="868.10" width="11.21" height="11.84" fill="#aac8ee"/>
<rect x="1247.41" y="868.10" width="22.43" height="11.84" fill="#aac8ee"/>
<rect x="1281.06" y="868.10" width="33.64" height="11.84" fill="#aac8ee"/>
<rect x="1325.91" y="868.10" width="112.16" height="11.84" fill="#aac8ee"/>
<rect x="1168.90" y="879.94" width="11.22" height="11.84" fill="#aac8ee"/>
<rect x="1191.34" y="879.94" width="11.21" height="11.84" fill="#aac8ee"/>
<rect x="1213.76" y="879.94" width="179.44" height="11.84" fill="#aac8ee"/>
<rect x="1168.90" y="891.78" width="33.65" height="11.85" fill="#aac8ee"/>
<rect x="1213.76" y="891.78" width="22.43" height="11.85" fill="#aac8ee"/>
<rect x="1247.41" y="891.78" width="145.79" height="11.85" fill="#aac8ee"/>
<rect x="1157.69" y="903.63" width="89.72" height="11.85" fill="#aac8ee"/>
<rect x="1258.62" y="903.63" width="100.94" height="11.85" fill="#aac8ee"/>
<rect x="1404.42" y="903.63" width="11.21" height="11.85" fill="#aac8ee"/>
<rect x="1157.69" y="915.48" width="11.21" height="11.84" fill="#aac8ee"/>
<rect x="1191.34" y="915.48" width="22.42" height="11.84" fill="#aac8ee"/>
<rect x="1224.98" y="915.48" width="33.64" height="11.84" fill="#aac8ee"/>
<rect x="1269.84" y="915.48" width="22.43" height="11.84" fill="#aac8ee"/>
<rect x="1303.49" y="915.48" width="67.29" height="11.84" fill="#aac8ee"/>
<rect x="1393.20" y="915.48" width="11.22" height="11.84" fill="#aac8ee"/>
<rect x="1157.69" y="927.32" width="22.43" height="11.84" fill="#aac8ee"/>
<rect x="1191.34" y="927.32" width="201.86" height="11.84" fill="#aac8ee"/>
<rect x="1146.47" y="939.16" width="22.43" height="11.85" fill="#aac8ee"/>
<rect x="1202.55" y="939.16" width="11.21" height="11.85" fill="#aac8ee"/>
<rect x="1224.98" y="939.16" width="145.80" height="11.85" fill="#aac8ee"/>
<rect x="1157.69" y="951.01" width="11.21" height="11.85" fill="#aac8ee"/>
<rect x="1180.12" y="951.01" width="168.23" height="11.85" fill="#aac8ee"/>
<rect x="1124.05" y="962.86" width="11.21" height="11.84" fill="#aac8ee"/>
<rect x="1146.47" y="962.86" width="213.09" height="11.84" fill="#aac8ee"/>
<rect x="1146.47" y="974.70" width="168.23" height="11.85" fill="#aac8ee"/>
<rect x="1325.91" y="974.70" width="22.44" height="11.85" fill="#aac8ee"/>
<rect x="1135.26" y="986.55" width="179.44" height="11.84" fill="#aac8ee"/>
<rect x="1325.91" y="986.55" width="11.22" height="11.84" fill="#aac8ee"/>
<rect x="1124.05" y="998.39" width="213.08" height="11.85" fill="#aac8ee"/>
<rect x="1124.05" y="1010.24" width="190.65" height="11.84" fill="#aac8ee"/>
<rect x="1101.62" y="1022.08" width="190.65" height="11.84" fill="#aac8ee"/>
<rect x="1090.40" y="1033.92" width="179.44" height="11.85" fill="#aac8ee"/>
<rect x="1079.18" y="1045.77" width="11.22" height="11.85" fill="#aac8ee"/>
<rect x="1101.62" y="1045.77" width="168.22" height="11.85" fill="#aac8ee"/>
<rect x="1090.40" y="1057.62" width="179.44" height="11.84" fill="#aac8ee"/>
<rect x="1101.62" y="1069.46" width="157.00" height="11.85" fill="#aac8ee"/>
<rect x="1101.62" y="1081.31" width="145.79" height="11.84" fill="#aac8ee"/>
<rect x="1505.36" y="1081.31" width="11.21" height="11.84" fill="#aac8ee"/>
<rect x="1090.40" y="1093.15" width="157.01" height="11.84" fill="#aac8ee"/>
<rect x="1079.18" y="1104.99" width="168.23" height="11.85" fill="#aac8ee"/>
<rect x="1505.36" y="1104.99" width="11.21" height="11.85" fill="#aac8ee"/>
<rect x="1067.97" y="1116.84" width="157.01" height="11.84" fill="#aac8ee"/>
<rect x="1494.14" y="1116.84" width="11.22" height="11.84" fill="#aac8ee"/>
<rect x="1516.57" y="1116.84" width="22.43" height="11.84" fill="#aac8ee"/>
<rect x="1079.18" y="1128.68" width="134.58" height="11.85" fill="#aac8ee"/>
<rect x="1482.92" y="1128.68" width="11.22" height="11.85" fill="#aac8ee"/>
<rect x="1527.78" y="1128.68" width="11.22" height="11.85" fill="#aac8ee"/>
<rect x="1056.76" y="1140.53" width="157.00" height="11.85" fill="#aac8ee"/>
<rect x="1460.49" y="1140.53" width="11.22" height="11.85" fill="#aac8ee"/>
<rect x="1516.57" y="1140.53" width="22.43" height="11.85" fill="#aac8ee"/>
<rect x="1067.97" y="1152.38" width="134.58" height="11.84" fill="#aac8ee"/>
<rect x="1415.63" y="1152.38" width="11.22" height="11.84" fill="#aac8ee"/>
<rect x="1482.92" y="1152.38" width="11.22" height="11.84" fill="#aac8ee"/>
<rect x="1505.36" y="1152.38" width="22.42" height="11.84" fill="#aac8ee"/>
<rect x="1056.76" y="1164.22" width="145.79" height="11.85" fill="#aac8ee"/>
<rect x="1438.07" y="1164.22" width="11.21" height="11.85" fill="#aac8ee"/>
<rect x="1482.92" y="1164.22" width="11.22" height="11.85" fill="#aac8ee"/>
<rect x="1505.36" y="1164.22" width="22.42" height="11.85" fill="#aac8ee"/>
<rect x="1045.54" y="1176.07" width="145.80" height="11.84" fill="#aac8ee"/>
<rect x="1303.49" y="1176.07" width="11.21" height="11.84" fill="#aac8ee"/>
<rect x="1381.99" y="1176.07" width="33.64" height="11.84" fill="#aac8ee"/>
<rect x="1426.85" y="1176.07" width="11.22" height="11.84" fill="#aac8ee"/>
<rect x="1482.92" y="1176.07" width="11.22" height="11.84" fill="#aac8ee"/>
<rect x="1045.54" y="1187.91" width="134.58" height="11.85" fill="#aac8ee"/>
<rect x="1292.27" y="1187.91" width="11.22" height="11.85" fill="#aac8ee"/>
<rect x="1381.99" y="1187.91" width="44.86" height="11.85" fill="#aac8ee"/>
<rect x="1438.07" y="1187.91" width="22.42" height="11.85" fill="#aac8ee"/>
<rect x="1471.71" y="1187.91" width="11.21" height="11.85" fill="#aac8ee"/>
<rect x="1527.78" y="1187.91" width="11.22" height="11.85" fill="#aac8ee"/>
<rect x="1045.54" y="1199.76" width="123.36" height="11.84" fill="#aac8ee"/>
<rect x="1337.13" y="1199.76" width="11.22" height="11.84" fill="#aac8ee"/>
<rect x="1393.20" y="1199.76" width="33.65" height="11.84" fill="#aac8ee"/>
<rect x="1449.28" y="1199.76" width="33.64" height="11.84" fill="#aac8ee"/>
<rect x="1494.14" y="1199.76" width="22.43" height="11.84" fill="#aac8ee"/>
<rect x="1045.54" y="1211.60" width="123.36" height="11.84" fill="#aac8ee"/>
<rect x="1281.06" y="1211.60" width="22.43" height="11.84" fill="#aac8ee"/>
<rect x="1337.13" y="1211.60" width="11.22" height="11.84" fill="#aac8ee"/>
<rect x="1381.99" y="1211.60" width="11.21" height="11.84" fill="#aac8ee"/>
<rect x="1404.42" y="1211.60" width="33.65" height="11.84" fill="#aac8ee"/>
<rect x="1482.92" y="1211.60" width="11.22" height="11.84" fill="#aac8ee"/>
<rect x="1505.36" y="1211.60" width="22.42" height="11.84" fill="#aac8ee"/>
<rect x="1034.33" y="1223.44" width="112.14" height="11.85" fill="#aac8ee"/>
<rect x="1247.41" y="1223.44" width="33.65" height="11.85" fill="#aac8ee"/>
<rect x="1337.13" y="1223.44" width="11.22" height="11.85" fill="#aac8ee"/>
<rect x="1393.20" y="1223.44" width="33.65" height="11.85" fill="#aac8ee"/>
<rect x="1449.28" y="1223.44" width="11.21" height="11.85" fill="#aac8ee"/>
<rect x="1471.71" y="1223.44" width="11.21" height="11.85" fill="#aac8ee"/>
<rect x="1494.14" y="1223.44" width="11.22" height="11.85" fill="#aac8ee"/>
<rect x="1527.78" y="1223.44" width="11.22" height="11.85" fill="#aac8ee"/>
<rect x="1034.33" y="1235.29" width="112.14" height="11.84" fill="#aac8ee"/>
<rect x="1258.62" y="1235.29" width="33.65" height="11.84" fill="#aac8ee"/>
<rect x="1314.70" y="1235.29" width="44.86" height="11.84" fill="#aac8ee"/>
<rect x="1370.78" y="1235.29" width="56.07" height="11.84" fill="#aac8ee"/>
<rect x="1438.07" y="1235.29" width="11.21" height="11.84" fill="#aac8ee"/>
<rect x="1494.14" y="1235.29" width="11.22" height="11.84" fill="#aac8ee"/>
<rect x="1527.78" y="1235.29" width="11.22" height="11.84" fill="#aac8ee"/>
<rect x="1034.33" y="1247.13" width="100.93" height="11.85" fill="#aac8ee"/>
<rect x="1247.41" y="1247.13" width="33.65" height="11.85" fill="#aac8ee"/>
<rect x="1292.27" y="1247.13" width="22.43" height="11.85" fill="#aac8ee"/>
<rect x="1325.91" y="1247.13" width="11.22" height="11.85" fill="#aac8ee"/>
<rect x="1359.56" y="1247.13" width="67.29" height="11.85" fill="#aac8ee"/>
<rect x="1471.71" y="1247.13" width="11.21" height="11.85" fill="#aac8ee"/>
<rect x="1023.11" y="1258.98" width="100.94" height="11.85" fill="#aac8ee"/>
<rect x="1213.76" y="1258.98" width="100.94" height="11.85" fill="#aac8ee"/>
<rect x="1325.91" y="1258.98" width="11.22" height="11.85" fill="#aac8ee"/>
<rect x="1370.78" y="1258.98" width="22.42" height="11.85" fill="#aac8ee"/>
<rect x="1404.42" y="1258.98" width="33.65" height="11.85" fill="#aac8ee"/>
<rect x="1471.71" y="1258.98" width="11.21" height="11.85" fill="#aac8ee"/>
<rect x="1516.57" y="1258.98" width="11.21" height="11.85" fill="#aac8ee"/>
<rect x="1011.89" y="1270.83" width="100.94" height="11.84" fill="#aac8ee"/>
<rect x="1202.55" y="1270.83" width="145.80" height="11.84" fill="#aac8ee"/>
<rect x="1359.56" y="1270.83" width="56.07" height="11.84" fill="#aac8ee"/>
<rect x="1426.85" y="1270.83" width="11.22" height="11.84" fill="#aac8ee"/>
<rect x="1023.11" y="1282.67" width="33.65" height="11.85" fill="#aac8ee"/>
<rect x="1056.76" y="1282.67" width="11.21" height="11.85" fill="#95bff1"/>
<rect x="1067.97" y="1282.67" width="33.65" height="11.85" fill="#aac8ee"/>
<rect x="1191.34" y="1282.67" width="145.79" height="11.85" fill="#aac8ee"/>
<rect x="1348.35" y="1282.67" width="11.21" height="11.85" fill="#aac8ee"/>
<rect x="1381.99" y="1282.67" width="44.86" height="11.85" fill="#aac8ee"/>
<rect x="1011.89" y="1294.52" width="22.44" height="11.84" fill="#aac8ee"/>
<rect x="1034.33" y="1294.52" width="33.64" height="11.84" fill="#95bff1"/>
<rect x="1067.97" y="1294.52" width="33.65" height="11.84" fill="#aac8ee"/>
<rect x="1168.90" y="1294.52" width="224.30" height="11.84" fill="#aac8ee"/>
<rect x="1000.68" y="1306.36" width="22.43" height="11.84" fill="#aac8ee"/>
<rect x="1023.11" y="1306.36" width="22.43" height="11.84" fill="#95bff1"/>
<rect x="1045.54" y="1306.36" width="11.22" height="11.84" fill="#79b5f4"/>
<rect x="1056.76" y="1306.36" width="11.21" height="11.84" fill="#95bff1"/>
<rect x="1067.97" y="1306.36" width="22.43" height="11.84" fill="#aac8ee"/>
<rect x="1157.69" y="1306.36" width="33.65" height="11.84" fill="#aac8ee"/>
<rect x="1202.55" y="1306.36" width="134.58" height="11.84" fill="#aac8ee"/>
<rect x="1348.35" y="1306.36" width="11.21" height="11.84" fill="#aac8ee"/>
<rect x="1370.78" y="1306.36" width="11.21" height="11.84" fill="#aac8ee"/>
<rect x="1000.68" y="1318.20" width="22.43" height="11.85" fill="#aac8ee"/>
<rect x="1023.11" y="1318.20" width="11.22" height="11.85" fill="#95bff1"/>
<rect x="1034.33" y="1318.20" width="22.43" height="11.85" fill="#79b5f4"/>
<rect x="1056.76" y="1318.20" width="22.42" height="11.85" fill="#aac8ee"/>
<rect x="1157.69" y="1318.20" width="179.44" height="11.85" fill="#aac8ee"/>
<rect x="1370.78" y="1318.20" width="11.21" height="11.85" fill="#aac8ee"/>
<rect x="1000.68" y="1330.05" width="11.21" height="11.84" fill="#aac8ee"/>
<rect x="1011.89" y="1330.05" width="11.22" height="11.84" fill="#79b5f4"/>
<rect x="1023.11" y="1330.05" width="22.43" height="11.84" fill="#31a3f4"/>
<rect x="1045.54" y="1330.05" width="11.22" height="11.84" fill="#79b5f4"/>
<rect x="1056.76" y="1330.05" width="11.21" height="11.84" fill="#aac8ee"/>
<rect x="1101.62" y="1330.05" width="33.64" height="11.84" fill="#aac8ee"/>
<rect x="1146.47" y="1330.05" width="157.02" height="11.84" fill="#aac8ee"/>
<rect x="1314.70" y="1330.05" width="11.21" height="11.84" fill="#aac8ee"/>
<rect x="989.47" y="1341.89" width="11.21" height="11.85" fill="#aac8ee"/>
<rect x="1000.68" y="1341.89" width="11.21" height="11.85" fill="#95bff1"/>
<rect x="1011.89" y="1341.89" width="11.22" height="11.85" fill="#58adf6"/>
<rect x="1023.11" y="1341.89" width="11.22" height="11.85" fill="#31a3f4"/>
<rect x="1034.33" y="1341.89" width="11.21" height="11.85" fill="#58adf6"/>
<rect x="1045.54" y="1341.89" width="11.22" height="11.85" fill="#95bff1"/>
<rect x="1056.76" y="1341.89" width="22.42" height="11.85" fill="#aac8ee"/>
<rect x="1090.40" y="1341.89" width="179.44" height="11.85" fill="#aac8ee"/>
<rect x="1281.06" y="1341.89" width="22.43" height="11.85" fill="#aac8ee"/>
<rect x="989.47" y="1353.74" width="11.21" height="11.85" fill="#aac8ee"/>
<rect x="1000.68" y="1353.74" width="11.21" height="11.85" fill="#95bff1"/>
<rect x="1011.89" y="1353.74" width="11.22" height="11.85" fill="#58adf6"/>
<rect x="1023.11" y="1353.74" width="11.22" height="11.85" fill="#31a3f4"/>
<rect x="1034.33" y="1353.74" width="11.21" height="11.85" fill="#79b5f4"/>
<rect x="1045.54" y="1353.74" width="33.64" height="11.85" fill="#aac8ee"/>
<rect x="1090.40" y="1353.74" width="190.66" height="11.85" fill="#aac8ee"/>
<rect x="978.25" y="1365.59" width="22.43" height="11.84" fill="#aac8ee"/>
<rect x="1000.68" y="1365.59" width="11.21" height="11.84" fill="#95bff1"/>
<rect x="1011.89" y="1365.59" width="11.22" height="11.84" fill="#58adf6"/>
<rect x="1023.11" y="1365.59" width="11.22" height="11.84" fill="#79b5f4"/>
<rect x="1034.33" y="1365.59" width="190.65" height="11.84" fill="#aac8ee"/>
<rect x="978.25" y="1377.43" width="11.22" height="11.85" fill="#aac8ee"/>
<rect x="989.47" y="1377.43" width="11.21" height="11.85" fill="#95bff1"/>
<rect x="1000.68" y="1377.43" width="22.43" height="11.85" fill="#31a3f4"/>
<rect x="1023.11" y="1377.43" width="11.22" height="11.85" fill="#95bff1"/>
<rect x="1034.33" y="1377.43" width="179.43" height="11.85" fill="#aac8ee"/>
<rect x="978.25" y="1389.28" width="11.22" height="11.84" fill="#aac8ee"/>
<rect x="989.47" y="1389.28" width="11.21" height="11.84" fill="#31a3f4"/>
<rect x="1000.68" y="1389.28" width="11.21" height="11.84" fill="#396d9c"/>
<rect x="1011.89" y="1389.28" width="11.22" height="11.84" fill="#79b5f4"/>
<rect x="1023.11" y="1389.28" width="44.86" height="11.84" fill="#aac8ee"/>
<rect x="1067.97" y="1389.28" width="11.21" height="11.84" fill="#95bff1"/>
<rect x="1079.18" y="1389.28" width="89.72" height="11.84" fill="#aac8ee"/>
<rect x="978.25" y="1401.12" width="11.22" height="11.85" fill="#95bff1"/>
<rect x="989.47" y="1401.12" width="11.21" height="11.85" fill="#3080be"/>
<rect x="1000.68" y="1401.12" width="11.21" height="11.85" fill="#31a3f4"/>
<rect x="1011.89" y="1401.12" width="44.87" height="11.85" fill="#aac8ee"/>
<rect x="1056.76" y="1401.12" width="22.42" height="11.85" fill="#95bff1"/>
<rect x="1079.18" y="1401.12" width="56.08" height="11.85" fill="#aac8ee"/>
<rect x="978.25" y="1412.97" width="11.22" height="11.84" fill="#3080be"/>
<rect x="989.47" y="1412.97" width="11.21" height="11.84" fill="#31a3f4"/>
<rect x="1000.68" y="1412.97" width="33.65" height="11.84" fill="#aac8ee"/>
<rect x="1034.33" y="1412.97" width="11.21" height="11.84" fill="#95bff1"/>
<rect x="1045.54" y="1412.97" width="11.22" height="11.84" fill="#aac8ee"/>
<rect x="1056.76" y="1412.97" width="22.42" height="11.84" fill="#95bff1"/>
<rect x="1079.18" y="1412.97" width="33.65" height="11.84" fill="#aac8ee"/>
<rect x="1135.26" y="1412.97" width="11.21" height="11.84" fill="#aac8ee"/>
<rect x="978.25" y="1424.81" width="11.22" height="11.85" fill="#3d5672"/>
<rect x="989.47" y="1424.81" width="11.21" height="11.85" fill="#79b5f4"/>
<rect x="1000.68" y="1424.81" width="22.43" height="11.85" fill="#aac8ee"/>
<rect x="1023.11" y="1424.81" width="22.43" height="11.85" fill="#95bff1"/>
<rect x="1045.54" y="1424.81" width="56.08" height="11.85" fill="#aac8ee"/>
<rect x="978.25" y="1436.66" width="11.22" height="11.84" fill="#3d5672"/>
<rect x="989.47" y="1436.66" width="56.07" height="11.84" fill="#aac8ee"/>
</g>
<rect x="212.90" y="1478.30" width="2.20" height="9.80" fill="#000"/>
<text transform="translate(214.00,1521.00) scale(1,0.975)" text-anchor="middle">0.0</text>
<rect x="179.40" y="1457.60" width="9.80" height="2.20" fill="#000"/>
<text transform="translate(170.40,1470.80) scale(1,0.975)" text-anchor="end">0.0</text>
<rect x="326.74" y="1478.30" width="2.20" height="9.80" fill="#000"/>
<text transform="translate(327.84,1521.00) scale(1,0.975)" text-anchor="middle">0.2</text>
<rect x="179.40" y="1334.24" width="9.80" height="2.20" fill="#000"/>
<text transform="translate(170.40,1347.44) scale(1,0.975)" text-anchor="end">0.2</text>
<rect x="440.58" y="1478.30" width="2.20" height="9.80" fill="#000"/>
<text transform="translate(441.68,1521.00) scale(1,0.975)" text-anchor="middle">0.4</text>
<rect x="179.40" y="1210.88" width="9.80" height="2.20" fill="#000"/>
<text transform="translate(170.40,1224.08) scale(1,0.975)" text-anchor="end">0.4</text>
<rect x="554.42" y="1478.30" width="2.20" height="9.80" fill="#000"/>
<text transform="translate(555.52,1521.00) scale(1,0.975)" text-anchor="middle">0.6</text>
<rect x="179.40" y="1087.52" width="9.80" height="2.20" fill="#000"/>
<text transform="translate(170.40,1100.72) scale(1,0.975)" text-anchor="end">0.6</text>
<rect x="668.26" y="1478.30" width="2.20" height="9.80" fill="#000"/>
<text transform="translate(669.36,1521.00) scale(1,0.975)" text-anchor="middle">0.8</text>
<rect x="179.40" y="964.16" width="9.80" height="2.20" fill="#000"/>
<text transform="translate(170.40,977.36) scale(1,0.975)" text-anchor="end">0.8</text>
<rect x="782.10" y="1478.30" width="2.20" height="9.80" fill="#000"/>
<text transform="translate(783.20,1521.00) scale(1,0.975)" text-anchor="middle">1.0</text>
<rect x="179.40" y="840.80" width="9.80" height="2.20" fill="#000"/>
<text transform="translate(170.40,854.00) scale(1,0.975)" text-anchor="end">1.0</text>
<text transform="translate(498.75,1560.40) scale(1,0.975)" text-anchor="middle">x</text>
<text transform="translate(103.60,1152.90) rotate(-90) scale(0.985,1)" text-anchor="middle" style="font-size:30.7px">y</text>
<rect x="976.00" y="1478.30" width="2.20" height="9.80" fill="#000"/>
<text transform="translate(977.10,1521.00) scale(1,0.975)" text-anchor="middle">0.0</text>
<rect x="940.20" y="1455.70" width="9.80" height="2.20" fill="#000"/>
<text transform="translate(931.20,1468.90) scale(1,0.975)" text-anchor="end">0.0</text>
<rect x="1088.40" y="1478.30" width="2.20" height="9.80" fill="#000"/>
<text transform="translate(1089.50,1521.00) scale(1,0.975)" text-anchor="middle">0.2</text>
<rect x="940.20" y="1335.54" width="9.80" height="2.20" fill="#000"/>
<text transform="translate(931.20,1348.74) scale(1,0.975)" text-anchor="end">0.2</text>
<rect x="1200.80" y="1478.30" width="2.20" height="9.80" fill="#000"/>
<text transform="translate(1201.90,1521.00) scale(1,0.975)" text-anchor="middle">0.4</text>
<rect x="940.20" y="1215.38" width="9.80" height="2.20" fill="#000"/>
<text transform="translate(931.20,1228.58) scale(1,0.975)" text-anchor="end">0.4</text>
<rect x="1313.20" y="1478.30" width="2.20" height="9.80" fill="#000"/>
<text transform="translate(1314.30,1521.00) scale(1,0.975)" text-anchor="middle">0.6</text>
<rect x="940.20" y="1095.22" width="9.80" height="2.20" fill="#000"/>
<text transform="translate(931.20,1108.42) scale(1,0.975)" text-anchor="end">0.6</text>
<rect x="1425.60" y="1478.30" width="2.20" height="9.80" fill="#000"/>
<text transform="translate(1426.70,1521.00) scale(1,0.975)" text-anchor="middle">0.8</text>
<rect x="940.20" y="975.06" width="9.80" height="2.20" fill="#000"/>
<text transform="translate(931.20,988.26) scale(1,0.975)" text-anchor="end">0.8</text>
<rect x="1538.00" y="1478.30" width="2.20" height="9.80" fill="#000"/>
<text transform="translate(1539.10,1521.00) scale(1,0.975)" text-anchor="middle">1.0</text>
<rect x="940.20" y="854.90" width="9.80" height="2.20" fill="#000"/>
<text transform="translate(931.20,868.10) scale(1,0.975)" text-anchor="end">1.0</text>
<text transform="translate(1258.75,1560.40) scale(1,0.975)" text-anchor="middle">width</text>
<text transform="translate(867.50,1155.60) rotate(-90) scale(0.985,1)" text-anchor="middle" style="font-size:30.7px">height</text>
</svg></body></html>
